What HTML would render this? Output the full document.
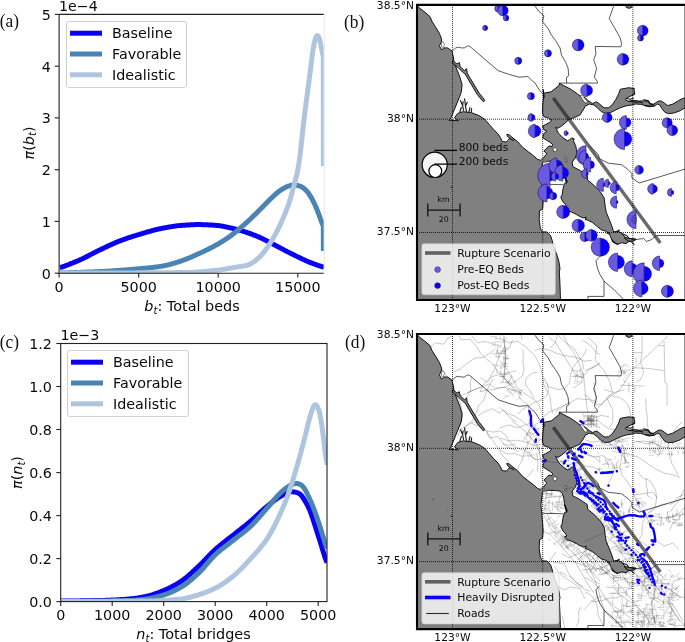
<!DOCTYPE html><html><head><meta charset="utf-8"><title>Figure</title><style>html,body{margin:0;padding:0;background:#fff}svg{display:block}text{font-family:"DejaVu Sans","Liberation Sans",sans-serif;fill:#0a0a0a}.ser{font-family:"Liberation Serif","DejaVu Serif",serif;fill:#111}</style></head><body>
<svg width="685" height="642" viewBox="0 0 685 642">
<rect width="685" height="642" fill="#fff"/>
<clipPath id="ca"><rect x="59.1" y="14.4" width="264.7" height="258.8"/></clipPath>
<path d="M60.0,267.5 L60.7,267.4 L61.3,267.2 L62.0,267.0 L62.6,266.8 L63.3,266.5 L64.0,266.3 L64.6,266.1 L65.3,265.8 L66.0,265.6 L66.6,265.3 L67.3,265.1 L67.9,264.8 L68.6,264.6 L69.3,264.3 L69.9,264.0 L70.6,263.8 L71.2,263.5 L71.9,263.3 L72.6,263.0 L73.2,262.7 L73.9,262.4 L74.6,262.2 L75.2,261.9 L75.9,261.6 L76.5,261.3 L77.2,261.1 L77.9,260.8 L78.5,260.5 L79.2,260.2 L79.8,259.9 L80.5,259.6 L81.2,259.3 L81.8,259.0 L82.5,258.7 L83.1,258.4 L83.8,258.0 L84.5,257.7 L85.1,257.4 L85.8,257.1 L86.5,256.7 L87.1,256.4 L87.8,256.1 L88.4,255.7 L89.1,255.4 L89.8,255.0 L90.4,254.7 L91.1,254.3 L91.7,254.0 L92.4,253.7 L93.1,253.3 L93.7,253.0 L94.4,252.6 L95.1,252.3 L95.7,252.0 L96.4,251.6 L97.0,251.3 L97.7,251.0 L98.4,250.6 L99.0,250.3 L99.7,250.0 L100.3,249.7 L101.0,249.4 L101.7,249.1 L102.3,248.7 L103.0,248.4 L103.7,248.1 L104.3,247.8 L105.0,247.5 L105.6,247.2 L106.3,246.9 L107.0,246.5 L107.6,246.2 L108.3,245.9 L108.9,245.6 L109.6,245.3 L110.3,245.0 L110.9,244.7 L111.6,244.4 L112.3,244.1 L112.9,243.8 L113.6,243.5 L114.2,243.2 L114.9,242.9 L115.6,242.6 L116.2,242.3 L116.9,242.1 L117.5,241.8 L118.2,241.5 L118.9,241.3 L119.5,241.0 L120.2,240.8 L120.8,240.5 L121.5,240.3 L122.2,240.0 L122.8,239.8 L123.5,239.5 L124.2,239.3 L124.8,239.1 L125.5,238.8 L126.1,238.6 L126.8,238.4 L127.5,238.1 L128.1,237.9 L128.8,237.7 L129.4,237.5 L130.1,237.3 L130.8,237.1 L131.4,236.8 L132.1,236.6 L132.8,236.4 L133.4,236.2 L134.1,236.0 L134.7,235.8 L135.4,235.6 L136.1,235.4 L136.7,235.2 L137.4,235.0 L138.0,234.8 L138.7,234.6 L139.4,234.4 L140.0,234.2 L140.7,234.0 L141.4,233.8 L142.0,233.6 L142.7,233.4 L143.3,233.2 L144.0,233.0 L144.7,232.8 L145.3,232.6 L146.0,232.4 L146.6,232.2 L147.3,232.0 L148.0,231.8 L148.6,231.7 L149.3,231.5 L150.0,231.3 L150.6,231.1 L151.3,230.9 L151.9,230.7 L152.6,230.5 L153.3,230.4 L153.9,230.2 L154.6,230.0 L155.2,229.8 L155.9,229.7 L156.6,229.5 L157.2,229.4 L157.9,229.2 L158.5,229.1 L159.2,228.9 L159.9,228.8 L160.5,228.6 L161.2,228.5 L161.9,228.4 L162.5,228.2 L163.2,228.1 L163.8,228.0 L164.5,227.9 L165.2,227.7 L165.8,227.6 L166.5,227.5 L167.1,227.4 L167.8,227.3 L168.5,227.1 L169.1,227.0 L169.8,226.9 L170.5,226.8 L171.1,226.7 L171.8,226.6 L172.4,226.5 L173.1,226.4 L173.8,226.3 L174.4,226.2 L175.1,226.1 L175.7,226.0 L176.4,225.9 L177.1,225.8 L177.7,225.8 L178.4,225.7 L179.1,225.6 L179.7,225.6 L180.4,225.5 L181.0,225.4 L181.7,225.4 L182.4,225.3 L183.0,225.3 L183.7,225.3 L184.3,225.2 L185.0,225.2 L185.7,225.1 L186.3,225.1 L187.0,225.0 L187.7,225.0 L188.3,224.9 L189.0,224.9 L189.6,224.9 L190.3,224.8 L191.0,224.8 L191.6,224.8 L192.3,224.7 L192.9,224.7 L193.6,224.7 L194.3,224.7 L194.9,224.6 L195.6,224.6 L196.2,224.6 L196.9,224.6 L197.6,224.6 L198.2,224.6 L198.9,224.6 L199.6,224.6 L200.2,224.6 L200.9,224.6 L201.5,224.6 L202.2,224.7 L202.9,224.7 L203.5,224.7 L204.2,224.7 L204.8,224.7 L205.5,224.8 L206.2,224.8 L206.8,224.8 L207.5,224.8 L208.2,224.9 L208.8,224.9 L209.5,224.9 L210.1,225.0 L210.8,225.0 L211.5,225.1 L212.1,225.1 L212.8,225.1 L213.4,225.2 L214.1,225.2 L214.8,225.3 L215.4,225.3 L216.1,225.4 L216.8,225.4 L217.4,225.5 L218.1,225.6 L218.7,225.6 L219.4,225.7 L220.1,225.8 L220.7,225.9 L221.4,226.0 L222.0,226.1 L222.7,226.2 L223.4,226.4 L224.0,226.5 L224.7,226.6 L225.4,226.8 L226.0,226.9 L226.7,227.1 L227.3,227.2 L228.0,227.4 L228.7,227.5 L229.3,227.6 L230.0,227.8 L230.6,227.9 L231.3,228.1 L232.0,228.2 L232.6,228.4 L233.3,228.6 L233.9,228.7 L234.6,228.9 L235.3,229.0 L235.9,229.2 L236.6,229.4 L237.3,229.6 L237.9,229.7 L238.6,229.9 L239.2,230.1 L239.9,230.3 L240.6,230.5 L241.2,230.7 L241.9,230.9 L242.5,231.1 L243.2,231.3 L243.9,231.5 L244.5,231.7 L245.2,231.9 L245.9,232.1 L246.5,232.3 L247.2,232.6 L247.8,232.8 L248.5,233.0 L249.2,233.2 L249.8,233.5 L250.5,233.7 L251.1,234.0 L251.8,234.2 L252.5,234.4 L253.1,234.7 L253.8,235.0 L254.5,235.2 L255.1,235.5 L255.8,235.7 L256.4,236.0 L257.1,236.3 L257.8,236.6 L258.4,236.8 L259.1,237.1 L259.7,237.4 L260.4,237.7 L261.1,238.0 L261.7,238.3 L262.4,238.6 L263.1,239.0 L263.7,239.3 L264.4,239.6 L265.0,239.9 L265.7,240.3 L266.4,240.6 L267.0,241.0 L267.7,241.3 L268.3,241.7 L269.0,242.0 L269.7,242.3 L270.3,242.7 L271.0,243.0 L271.6,243.4 L272.3,243.7 L273.0,244.1 L273.6,244.4 L274.3,244.8 L275.0,245.1 L275.6,245.5 L276.3,245.8 L276.9,246.2 L277.6,246.5 L278.3,246.9 L278.9,247.2 L279.6,247.6 L280.2,247.9 L280.9,248.3 L281.6,248.6 L282.2,249.0 L282.9,249.3 L283.6,249.7 L284.2,250.0 L284.9,250.4 L285.5,250.7 L286.2,251.0 L286.9,251.4 L287.5,251.7 L288.2,252.0 L288.8,252.4 L289.5,252.7 L290.2,253.1 L290.8,253.4 L291.5,253.7 L292.2,254.1 L292.8,254.4 L293.5,254.7 L294.1,255.0 L294.8,255.4 L295.5,255.7 L296.1,256.0 L296.8,256.3 L297.4,256.7 L298.1,257.0 L298.8,257.3 L299.4,257.6 L300.1,257.9 L300.8,258.3 L301.4,258.6 L302.1,258.9 L302.7,259.2 L303.4,259.5 L304.1,259.8 L304.7,260.1 L305.4,260.4 L306.0,260.7 L306.7,261.0 L307.4,261.3 L308.0,261.6 L308.7,261.9 L309.3,262.1 L310.0,262.4 L310.7,262.7 L311.3,262.9 L312.0,263.2 L312.7,263.4 L313.3,263.7 L314.0,263.9 L314.6,264.2 L315.3,264.4 L316.0,264.6 L316.6,264.9 L317.3,265.1 L317.9,265.3 L318.6,265.6 L319.3,265.8 L319.9,266.0 L320.6,266.2 L321.3,266.4 L321.9,266.7 L322.6,266.8 L323.2,267.0 L323.9,267.1" fill="none" stroke="#0a00f2" stroke-width="5" stroke-linejoin="round" clip-path="url(#ca)"/>
<path d="M60.0,272.8 L60.7,272.8 L61.3,272.8 L62.0,272.8 L62.6,272.8 L63.3,272.8 L64.0,272.8 L64.6,272.7 L65.3,272.7 L65.9,272.7 L66.6,272.7 L67.3,272.7 L67.9,272.7 L68.6,272.7 L69.2,272.7 L69.9,272.6 L70.6,272.6 L71.2,272.6 L71.9,272.6 L72.5,272.6 L73.2,272.6 L73.9,272.6 L74.5,272.5 L75.2,272.5 L75.8,272.5 L76.5,272.5 L77.2,272.5 L77.8,272.4 L78.5,272.4 L79.1,272.4 L79.8,272.4 L80.5,272.4 L81.1,272.3 L81.8,272.3 L82.4,272.3 L83.1,272.3 L83.8,272.2 L84.4,272.2 L85.1,272.2 L85.7,272.2 L86.4,272.1 L87.1,272.1 L87.7,272.1 L88.4,272.1 L89.0,272.0 L89.7,272.0 L90.4,272.0 L91.0,272.0 L91.7,271.9 L92.3,271.9 L93.0,271.9 L93.7,271.9 L94.3,271.8 L95.0,271.8 L95.6,271.8 L96.3,271.8 L97.0,271.7 L97.6,271.7 L98.3,271.7 L98.9,271.6 L99.6,271.6 L100.3,271.6 L100.9,271.6 L101.6,271.5 L102.2,271.5 L102.9,271.5 L103.6,271.4 L104.2,271.4 L104.9,271.3 L105.5,271.3 L106.2,271.3 L106.9,271.2 L107.5,271.2 L108.2,271.2 L108.8,271.1 L109.5,271.1 L110.2,271.0 L110.8,271.0 L111.5,270.9 L112.1,270.9 L112.8,270.8 L113.5,270.8 L114.1,270.7 L114.8,270.7 L115.4,270.7 L116.1,270.6 L116.8,270.6 L117.4,270.5 L118.1,270.5 L118.7,270.4 L119.4,270.4 L120.1,270.3 L120.7,270.3 L121.4,270.2 L122.0,270.2 L122.7,270.1 L123.4,270.1 L124.0,270.0 L124.7,270.0 L125.3,269.9 L126.0,269.9 L126.6,269.8 L127.3,269.8 L128.0,269.7 L128.6,269.7 L129.3,269.6 L129.9,269.6 L130.6,269.5 L131.3,269.4 L131.9,269.4 L132.6,269.3 L133.2,269.3 L133.9,269.2 L134.6,269.2 L135.2,269.1 L135.9,269.0 L136.5,269.0 L137.2,268.9 L137.9,268.9 L138.5,268.8 L139.2,268.7 L139.8,268.7 L140.5,268.6 L141.2,268.6 L141.8,268.5 L142.5,268.4 L143.1,268.4 L143.8,268.3 L144.5,268.2 L145.1,268.2 L145.8,268.1 L146.4,268.1 L147.1,268.0 L147.8,267.9 L148.4,267.9 L149.1,267.8 L149.7,267.7 L150.4,267.7 L151.1,267.6 L151.7,267.5 L152.4,267.5 L153.0,267.4 L153.7,267.3 L154.4,267.2 L155.0,267.1 L155.7,267.1 L156.3,267.0 L157.0,266.9 L157.7,266.8 L158.3,266.7 L159.0,266.6 L159.6,266.5 L160.3,266.4 L161.0,266.3 L161.6,266.2 L162.3,266.1 L162.9,266.0 L163.6,265.9 L164.3,265.7 L164.9,265.6 L165.6,265.4 L166.2,265.3 L166.9,265.1 L167.6,265.0 L168.2,264.8 L168.9,264.6 L169.5,264.5 L170.2,264.3 L170.9,264.1 L171.5,263.9 L172.2,263.7 L172.8,263.6 L173.5,263.4 L174.2,263.2 L174.8,263.0 L175.5,262.8 L176.1,262.6 L176.8,262.4 L177.5,262.2 L178.1,262.0 L178.8,261.8 L179.4,261.5 L180.1,261.3 L180.8,261.1 L181.4,260.9 L182.1,260.6 L182.7,260.4 L183.4,260.1 L184.1,259.9 L184.7,259.7 L185.4,259.4 L186.0,259.2 L186.7,258.9 L187.4,258.6 L188.0,258.4 L188.7,258.1 L189.3,257.8 L190.0,257.6 L190.7,257.3 L191.3,257.0 L192.0,256.7 L192.6,256.4 L193.3,256.1 L194.0,255.8 L194.6,255.5 L195.3,255.2 L195.9,254.9 L196.6,254.6 L197.3,254.3 L197.9,254.0 L198.6,253.7 L199.2,253.4 L199.9,253.1 L200.6,252.8 L201.2,252.5 L201.9,252.2 L202.5,251.9 L203.2,251.6 L203.9,251.3 L204.5,251.0 L205.2,250.7 L205.8,250.3 L206.5,250.0 L207.2,249.7 L207.8,249.4 L208.5,249.1 L209.1,248.7 L209.8,248.4 L210.5,248.1 L211.1,247.7 L211.8,247.4 L212.4,247.0 L213.1,246.7 L213.8,246.4 L214.4,246.0 L215.1,245.6 L215.7,245.3 L216.4,244.9 L217.1,244.5 L217.7,244.2 L218.4,243.8 L219.0,243.4 L219.7,243.0 L220.4,242.6 L221.0,242.2 L221.7,241.8 L222.3,241.4 L223.0,241.0 L223.7,240.5 L224.3,240.1 L225.0,239.7 L225.6,239.2 L226.3,238.8 L227.0,238.4 L227.6,237.9 L228.3,237.5 L228.9,237.0 L229.6,236.5 L230.3,236.1 L230.9,235.6 L231.6,235.1 L232.2,234.6 L232.9,234.1 L233.6,233.6 L234.2,233.1 L234.9,232.6 L235.5,232.0 L236.2,231.5 L236.9,231.0 L237.5,230.4 L238.2,229.9 L238.8,229.3 L239.5,228.8 L240.2,228.2 L240.8,227.6 L241.5,227.1 L242.1,226.5 L242.8,225.9 L243.5,225.3 L244.1,224.8 L244.8,224.2 L245.4,223.6 L246.1,223.0 L246.8,222.4 L247.4,221.8 L248.1,221.2 L248.7,220.6 L249.4,219.9 L250.1,219.3 L250.7,218.7 L251.4,218.1 L252.0,217.4 L252.7,216.8 L253.4,216.1 L254.0,215.5 L254.7,214.9 L255.3,214.2 L256.0,213.6 L256.7,212.9 L257.3,212.3 L258.0,211.6 L258.6,211.0 L259.3,210.3 L259.9,209.6 L260.6,209.0 L261.3,208.3 L261.9,207.6 L262.6,207.0 L263.2,206.3 L263.9,205.6 L264.6,204.9 L265.2,204.3 L265.9,203.6 L266.5,202.9 L267.2,202.2 L267.9,201.5 L268.5,200.9 L269.2,200.2 L269.8,199.6 L270.5,198.9 L271.2,198.3 L271.8,197.7 L272.5,197.1 L273.1,196.4 L273.8,195.8 L274.5,195.2 L275.1,194.6 L275.8,194.0 L276.4,193.4 L277.1,192.9 L277.8,192.3 L278.4,191.8 L279.1,191.3 L279.7,190.8 L280.4,190.4 L281.1,189.9 L281.7,189.5 L282.4,189.1 L283.0,188.7 L283.7,188.3 L284.4,187.9 L285.0,187.5 L285.7,187.2 L286.3,186.9 L287.0,186.6 L287.7,186.4 L288.3,186.2 L289.0,186.0 L289.6,185.8 L290.3,185.6 L291.0,185.4 L291.6,185.3 L292.3,185.1 L292.9,185.1 L293.6,185.0 L294.3,185.0 L294.9,185.0 L295.6,185.1 L296.2,185.1 L296.9,185.3 L297.6,185.4 L298.2,185.6 L298.9,185.8 L299.5,186.0 L300.2,186.2 L300.9,186.5 L301.5,186.8 L302.2,187.2 L302.8,187.6 L303.5,188.1 L304.2,188.6 L304.8,189.2 L305.5,189.8 L306.1,190.4 L306.8,191.1 L307.5,191.9 L308.1,192.7 L308.8,193.6 L309.4,194.6 L310.1,195.7 L310.8,196.7 L311.4,197.9 L312.1,199.0 L312.7,200.3 L313.4,201.6 L314.1,202.9 L314.7,204.3 L315.4,205.8 L316.0,207.4 L316.7,208.9 L317.4,210.6 L318.0,212.3 L318.7,214.0 L319.3,215.7 L320.0,217.6 L320.7,219.4 L321.3,221.3 L322.0,223.0 L322.6,224.6 L323.3,225.8 L323.4,251.0" fill="none" stroke="#4a84b5" stroke-width="5" stroke-linejoin="round" clip-path="url(#ca)"/>
<path d="M60.0,273.0 L60.7,273.0 L61.3,273.0 L62.0,273.0 L62.6,273.0 L63.3,273.0 L64.0,273.0 L64.6,273.0 L65.3,273.0 L65.9,273.0 L66.6,273.0 L67.3,273.0 L67.9,273.0 L68.6,273.0 L69.2,273.0 L69.9,273.0 L70.6,273.0 L71.2,273.0 L71.9,273.0 L72.5,273.0 L73.2,273.0 L73.9,273.0 L74.5,273.0 L75.2,273.0 L75.8,273.0 L76.5,273.0 L77.2,273.0 L77.8,273.0 L78.5,273.0 L79.1,273.0 L79.8,273.0 L80.5,273.0 L81.1,273.0 L81.8,273.0 L82.4,273.0 L83.1,273.0 L83.8,273.0 L84.4,273.0 L85.1,273.0 L85.7,273.0 L86.4,273.0 L87.1,273.0 L87.7,273.0 L88.4,273.0 L89.0,273.0 L89.7,273.0 L90.4,273.0 L91.0,273.0 L91.7,273.0 L92.3,273.0 L93.0,273.0 L93.7,273.0 L94.3,273.0 L95.0,273.0 L95.6,273.0 L96.3,273.0 L97.0,273.0 L97.6,273.0 L98.3,273.0 L98.9,273.0 L99.6,273.0 L100.3,273.0 L100.9,273.0 L101.6,273.0 L102.2,273.0 L102.9,272.9 L103.6,272.9 L104.2,272.9 L104.9,272.9 L105.5,272.9 L106.2,272.9 L106.9,272.9 L107.5,272.9 L108.2,272.9 L108.8,272.9 L109.5,272.9 L110.2,272.9 L110.8,272.9 L111.5,272.9 L112.1,272.9 L112.8,272.9 L113.5,272.9 L114.1,272.9 L114.8,272.9 L115.4,272.9 L116.1,272.9 L116.8,272.9 L117.4,272.9 L118.1,272.9 L118.7,272.9 L119.4,272.9 L120.1,272.9 L120.7,272.9 L121.4,272.9 L122.0,272.9 L122.7,272.9 L123.4,272.9 L124.0,272.9 L124.7,272.9 L125.3,272.9 L126.0,272.9 L126.6,272.9 L127.3,272.9 L128.0,272.9 L128.6,272.9 L129.3,272.9 L129.9,272.9 L130.6,272.9 L131.3,272.9 L131.9,272.9 L132.6,272.9 L133.2,272.9 L133.9,272.9 L134.6,272.9 L135.2,272.9 L135.9,272.9 L136.5,272.9 L137.2,272.8 L137.9,272.8 L138.5,272.8 L139.2,272.8 L139.8,272.8 L140.5,272.8 L141.2,272.8 L141.8,272.8 L142.5,272.8 L143.1,272.8 L143.8,272.8 L144.5,272.8 L145.1,272.8 L145.8,272.8 L146.4,272.8 L147.1,272.8 L147.8,272.8 L148.4,272.8 L149.1,272.8 L149.7,272.8 L150.4,272.8 L151.1,272.8 L151.7,272.8 L152.4,272.8 L153.0,272.8 L153.7,272.8 L154.4,272.8 L155.0,272.8 L155.7,272.8 L156.3,272.8 L157.0,272.8 L157.7,272.8 L158.3,272.8 L159.0,272.8 L159.6,272.8 L160.3,272.7 L161.0,272.7 L161.6,272.7 L162.3,272.7 L162.9,272.7 L163.6,272.7 L164.3,272.7 L164.9,272.7 L165.6,272.7 L166.2,272.7 L166.9,272.7 L167.6,272.7 L168.2,272.7 L168.9,272.7 L169.5,272.7 L170.2,272.7 L170.9,272.7 L171.5,272.7 L172.2,272.7 L172.8,272.6 L173.5,272.6 L174.2,272.6 L174.8,272.6 L175.5,272.6 L176.1,272.6 L176.8,272.6 L177.5,272.6 L178.1,272.6 L178.8,272.6 L179.4,272.6 L180.1,272.6 L180.8,272.5 L181.4,272.5 L182.1,272.5 L182.7,272.5 L183.4,272.5 L184.1,272.5 L184.7,272.5 L185.4,272.5 L186.0,272.5 L186.7,272.5 L187.4,272.4 L188.0,272.4 L188.7,272.4 L189.3,272.4 L190.0,272.4 L190.7,272.4 L191.3,272.4 L192.0,272.3 L192.6,272.3 L193.3,272.3 L194.0,272.3 L194.6,272.2 L195.3,272.2 L195.9,272.2 L196.6,272.1 L197.3,272.1 L197.9,272.0 L198.6,272.0 L199.2,272.0 L199.9,271.9 L200.6,271.9 L201.2,271.8 L201.9,271.8 L202.5,271.7 L203.2,271.6 L203.9,271.6 L204.5,271.5 L205.2,271.5 L205.8,271.4 L206.5,271.3 L207.2,271.3 L207.8,271.2 L208.5,271.1 L209.1,271.1 L209.8,271.0 L210.5,270.9 L211.1,270.8 L211.8,270.8 L212.4,270.7 L213.1,270.6 L213.8,270.6 L214.4,270.5 L215.1,270.4 L215.7,270.3 L216.4,270.3 L217.1,270.2 L217.7,270.1 L218.4,270.0 L219.0,269.9 L219.7,269.9 L220.4,269.8 L221.0,269.7 L221.7,269.6 L222.3,269.5 L223.0,269.4 L223.7,269.3 L224.3,269.2 L225.0,269.1 L225.6,269.0 L226.3,268.8 L227.0,268.7 L227.6,268.6 L228.3,268.5 L228.9,268.4 L229.6,268.3 L230.3,268.1 L230.9,268.0 L231.6,267.9 L232.2,267.8 L232.9,267.7 L233.6,267.6 L234.2,267.4 L234.9,267.3 L235.5,267.2 L236.2,267.1 L236.9,267.0 L237.5,266.9 L238.2,266.8 L238.8,266.7 L239.5,266.6 L240.2,266.5 L240.8,266.4 L241.5,266.3 L242.1,266.2 L242.8,266.1 L243.5,266.0 L244.1,265.9 L244.8,265.7 L245.4,265.6 L246.1,265.5 L246.8,265.3 L247.4,265.1 L248.1,264.9 L248.7,264.6 L249.4,264.3 L250.1,264.0 L250.7,263.7 L251.4,263.4 L252.0,263.0 L252.7,262.6 L253.4,262.2 L254.0,261.7 L254.7,261.3 L255.3,260.8 L256.0,260.3 L256.7,259.7 L257.3,259.1 L258.0,258.5 L258.6,257.9 L259.3,257.3 L259.9,256.6 L260.6,255.9 L261.3,255.2 L261.9,254.4 L262.6,253.7 L263.2,252.9 L263.9,252.1 L264.6,251.2 L265.2,250.3 L265.9,249.5 L266.5,248.6 L267.2,247.6 L267.9,246.7 L268.5,245.7 L269.2,244.7 L269.8,243.6 L270.5,242.6 L271.2,241.5 L271.8,240.5 L272.5,239.3 L273.1,238.2 L273.8,237.1 L274.5,235.9 L275.1,234.7 L275.8,233.5 L276.4,232.3 L277.1,231.0 L277.8,229.7 L278.4,228.4 L279.1,227.1 L279.7,225.7 L280.4,224.3 L281.1,222.9 L281.7,221.4 L282.4,219.9 L283.0,218.4 L283.7,216.8 L284.4,215.3 L285.0,213.7 L285.7,212.0 L286.3,210.4 L287.0,208.6 L287.7,206.9 L288.3,205.0 L289.0,203.1 L289.6,201.1 L290.3,199.0 L291.0,196.7 L291.6,194.4 L292.3,191.9 L292.9,189.4 L293.6,186.9 L294.3,184.4 L294.9,181.9 L295.6,179.4 L296.2,176.8 L296.9,174.0 L297.6,170.9 L298.2,167.4 L298.9,163.4 L299.5,158.8 L300.2,153.6 L300.9,148.0 L301.5,142.1 L302.2,136.1 L302.8,130.1 L303.5,124.2 L304.2,118.5 L304.8,113.0 L305.5,107.8 L306.1,102.7 L306.8,97.8 L307.5,92.8 L308.1,87.9 L308.8,82.9 L309.4,77.8 L310.1,72.5 L310.8,67.2 L311.4,61.8 L312.1,56.7 L312.7,51.9 L313.4,47.7 L314.1,44.1 L314.7,41.2 L315.4,38.8 L316.0,37.1 L316.7,36.0 L317.4,35.6 L318.0,35.9 L318.7,37.0 L319.3,38.7 L320.0,41.0 L320.7,43.8 L321.3,47.0 L322.0,50.4 L322.6,53.6 L323.3,56.3 L323.4,166.0" fill="none" stroke="#afc5df" stroke-width="5" stroke-linejoin="round" clip-path="url(#ca)"/>
<path d="M59.1,14.4 H323.8 M59.1,13.9 V273.2 H323.8" stroke="#222" stroke-width="1.1" fill="none"/>
<path d="M324.3,14.4 V273.2" stroke="#e8e8e8" stroke-width="1" fill="none"/>
<path d="M59.1,273.2 h-4.4" stroke="#222" stroke-width="1.1"/>
<text x="50.8" y="278.6" font-size="14.3" text-anchor="end">0</text>
<path d="M59.1,221.4 h-4.4" stroke="#222" stroke-width="1.1"/>
<text x="50.8" y="226.8" font-size="14.3" text-anchor="end">1</text>
<path d="M59.1,169.7 h-4.4" stroke="#222" stroke-width="1.1"/>
<text x="50.8" y="175.1" font-size="14.3" text-anchor="end">2</text>
<path d="M59.1,117.9 h-4.4" stroke="#222" stroke-width="1.1"/>
<text x="50.8" y="123.3" font-size="14.3" text-anchor="end">3</text>
<path d="M59.1,66.2 h-4.4" stroke="#222" stroke-width="1.1"/>
<text x="50.8" y="71.6" font-size="14.3" text-anchor="end">4</text>
<path d="M59.1,14.4 h-4.4" stroke="#222" stroke-width="1.1"/>
<text x="50.8" y="19.8" font-size="14.3" text-anchor="end">5</text>
<path d="M59.1,273.2 v4.3" stroke="#222" stroke-width="1.1"/>
<text x="59.1" y="291.7" font-size="14.3" text-anchor="middle">0</text>
<path d="M138.7,273.2 v4.3" stroke="#222" stroke-width="1.1"/>
<text x="138.7" y="291.7" font-size="14.3" text-anchor="middle">5000</text>
<path d="M218.2,273.2 v4.3" stroke="#222" stroke-width="1.1"/>
<text x="218.2" y="291.7" font-size="14.3" text-anchor="middle">10000</text>
<path d="M297.8,273.2 v4.3" stroke="#222" stroke-width="1.1"/>
<text x="297.8" y="291.7" font-size="14.3" text-anchor="middle">15000</text>
<text x="59" y="10.7" font-size="14.2">1e−4</text>
<text x="192" y="311" font-size="14.4" text-anchor="middle"><tspan font-style="italic">b</tspan><tspan font-style="italic" font-size="10.1" dy="2.8">t</tspan><tspan dy="-2.8">: Total beds</tspan></text>
<text transform="translate(33.6,143) rotate(-90)" font-size="14.4" text-anchor="middle"><tspan font-style="italic">π</tspan>(<tspan font-style="italic">b</tspan><tspan font-style="italic" font-size="10.1" dy="2.8">t</tspan><tspan dy="-2.8">)</tspan></text>
<text class="ser" transform="translate(-0.2,27) scale(1,1.12)" font-size="17.4">(a)</text>
<rect x="66.5" y="21.5" width="120.0" height="66.0" rx="2.5" fill="#fff" fill-opacity="0.8" stroke="#d0d0d0" stroke-width="1"/>
<path d="M70,33.2 h32" stroke="#0a00f2" stroke-width="5"/>
<text x="112" y="38.0" font-size="14.3">Baseline</text>
<path d="M70,54.0 h32" stroke="#4a84b5" stroke-width="5"/>
<text x="112" y="58.8" font-size="14.3">Favorable</text>
<path d="M70,74.8 h32" stroke="#afc5df" stroke-width="5"/>
<text x="112" y="79.6" font-size="14.3">Idealistic</text>
<clipPath id="cc"><rect x="60.7" y="343.5" width="266.3" height="258.1"/></clipPath>
<path d="M60.7,601.0 L61.4,601.0 L62.0,601.0 L62.7,601.0 L63.4,601.0 L64.0,601.0 L64.7,601.0 L65.4,601.0 L66.0,601.0 L66.7,601.0 L67.4,601.0 L68.0,601.0 L68.7,601.0 L69.4,601.0 L70.1,601.0 L70.7,601.0 L71.4,601.0 L72.1,600.9 L72.7,600.9 L73.4,600.9 L74.1,600.9 L74.7,600.9 L75.4,600.9 L76.1,600.9 L76.7,600.9 L77.4,600.9 L78.1,600.9 L78.7,600.9 L79.4,600.9 L80.1,600.9 L80.7,600.8 L81.4,600.8 L82.1,600.8 L82.7,600.8 L83.4,600.8 L84.1,600.8 L84.7,600.8 L85.4,600.8 L86.1,600.8 L86.7,600.8 L87.4,600.7 L88.1,600.7 L88.8,600.7 L89.4,600.7 L90.1,600.7 L90.8,600.7 L91.4,600.7 L92.1,600.7 L92.8,600.6 L93.4,600.6 L94.1,600.6 L94.8,600.6 L95.4,600.6 L96.1,600.6 L96.8,600.6 L97.4,600.6 L98.1,600.5 L98.8,600.5 L99.4,600.5 L100.1,600.5 L100.8,600.5 L101.4,600.5 L102.1,600.4 L102.8,600.4 L103.4,600.4 L104.1,600.4 L104.8,600.4 L105.5,600.3 L106.1,600.3 L106.8,600.3 L107.5,600.3 L108.1,600.3 L108.8,600.2 L109.5,600.2 L110.1,600.2 L110.8,600.1 L111.5,600.1 L112.1,600.1 L112.8,600.0 L113.5,600.0 L114.1,600.0 L114.8,599.9 L115.5,599.9 L116.1,599.9 L116.8,599.8 L117.5,599.8 L118.1,599.8 L118.8,599.7 L119.5,599.7 L120.1,599.6 L120.8,599.6 L121.5,599.5 L122.1,599.5 L122.8,599.4 L123.5,599.4 L124.2,599.4 L124.8,599.3 L125.5,599.3 L126.2,599.2 L126.8,599.2 L127.5,599.1 L128.2,599.0 L128.8,599.0 L129.5,598.9 L130.2,598.9 L130.8,598.8 L131.5,598.8 L132.2,598.7 L132.8,598.6 L133.5,598.5 L134.2,598.5 L134.8,598.4 L135.5,598.3 L136.2,598.2 L136.8,598.1 L137.5,598.0 L138.2,597.9 L138.8,597.8 L139.5,597.7 L140.2,597.6 L140.9,597.4 L141.5,597.3 L142.2,597.2 L142.9,597.1 L143.5,596.9 L144.2,596.8 L144.9,596.7 L145.5,596.5 L146.2,596.4 L146.9,596.2 L147.5,596.1 L148.2,595.9 L148.9,595.8 L149.5,595.6 L150.2,595.4 L150.9,595.2 L151.5,595.0 L152.2,594.8 L152.9,594.6 L153.5,594.4 L154.2,594.2 L154.9,593.9 L155.5,593.7 L156.2,593.5 L156.9,593.2 L157.5,593.0 L158.2,592.7 L158.9,592.5 L159.6,592.2 L160.2,591.9 L160.9,591.7 L161.6,591.4 L162.2,591.1 L162.9,590.8 L163.6,590.6 L164.2,590.3 L164.9,590.0 L165.6,589.7 L166.2,589.4 L166.9,589.1 L167.6,588.8 L168.2,588.5 L168.9,588.2 L169.6,587.9 L170.2,587.5 L170.9,587.2 L171.6,586.8 L172.2,586.5 L172.9,586.1 L173.6,585.8 L174.2,585.4 L174.9,585.0 L175.6,584.7 L176.3,584.3 L176.9,583.9 L177.6,583.5 L178.3,583.1 L178.9,582.7 L179.6,582.3 L180.3,581.8 L180.9,581.4 L181.6,580.9 L182.3,580.5 L182.9,580.0 L183.6,579.5 L184.3,579.0 L184.9,578.5 L185.6,578.0 L186.3,577.5 L186.9,576.9 L187.6,576.3 L188.3,575.8 L188.9,575.2 L189.6,574.6 L190.3,574.0 L190.9,573.4 L191.6,572.8 L192.3,572.2 L192.9,571.6 L193.6,571.0 L194.3,570.3 L195.0,569.7 L195.6,569.1 L196.3,568.5 L197.0,567.8 L197.6,567.2 L198.3,566.6 L199.0,566.0 L199.6,565.3 L200.3,564.7 L201.0,564.0 L201.6,563.3 L202.3,562.7 L203.0,562.0 L203.6,561.3 L204.3,560.6 L205.0,559.9 L205.6,559.2 L206.3,558.5 L207.0,557.8 L207.6,557.1 L208.3,556.4 L209.0,555.7 L209.6,555.0 L210.3,554.3 L211.0,553.7 L211.6,553.0 L212.3,552.3 L213.0,551.7 L213.7,551.0 L214.3,550.4 L215.0,549.8 L215.7,549.2 L216.3,548.6 L217.0,548.0 L217.7,547.4 L218.3,546.9 L219.0,546.3 L219.7,545.7 L220.3,545.2 L221.0,544.7 L221.7,544.1 L222.3,543.6 L223.0,543.1 L223.7,542.5 L224.3,542.0 L225.0,541.5 L225.7,541.0 L226.3,540.5 L227.0,539.9 L227.7,539.4 L228.3,538.9 L229.0,538.4 L229.7,537.9 L230.4,537.3 L231.0,536.8 L231.7,536.3 L232.4,535.8 L233.0,535.2 L233.7,534.7 L234.4,534.2 L235.0,533.7 L235.7,533.1 L236.4,532.6 L237.0,532.1 L237.7,531.6 L238.4,531.0 L239.0,530.5 L239.7,530.0 L240.4,529.5 L241.0,529.0 L241.7,528.4 L242.4,527.9 L243.0,527.4 L243.7,526.8 L244.4,526.3 L245.0,525.8 L245.7,525.2 L246.4,524.7 L247.0,524.2 L247.7,523.6 L248.4,523.1 L249.1,522.5 L249.7,521.9 L250.4,521.4 L251.1,520.8 L251.7,520.2 L252.4,519.6 L253.1,519.0 L253.7,518.4 L254.4,517.8 L255.1,517.2 L255.7,516.6 L256.4,515.9 L257.1,515.3 L257.7,514.7 L258.4,514.1 L259.1,513.5 L259.7,512.8 L260.4,512.2 L261.1,511.6 L261.7,511.0 L262.4,510.4 L263.1,509.8 L263.7,509.2 L264.4,508.6 L265.1,508.0 L265.8,507.5 L266.4,506.9 L267.1,506.3 L267.8,505.8 L268.4,505.2 L269.1,504.7 L269.8,504.1 L270.4,503.6 L271.1,503.0 L271.8,502.5 L272.4,502.0 L273.1,501.4 L273.8,500.9 L274.4,500.4 L275.1,499.9 L275.8,499.4 L276.4,498.9 L277.1,498.5 L277.8,498.0 L278.4,497.6 L279.1,497.2 L279.8,496.8 L280.4,496.4 L281.1,496.0 L281.8,495.6 L282.4,495.2 L283.1,494.8 L283.8,494.4 L284.5,494.0 L285.1,493.7 L285.8,493.3 L286.5,493.0 L287.1,492.7 L287.8,492.4 L288.5,492.2 L289.1,492.0 L289.8,491.9 L290.5,491.8 L291.1,491.8 L291.8,491.8 L292.5,491.8 L293.1,491.9 L293.8,491.9 L294.5,492.0 L295.1,492.1 L295.8,492.3 L296.5,492.4 L297.1,492.6 L297.8,492.8 L298.5,493.2 L299.1,493.5 L299.8,494.0 L300.5,494.6 L301.2,495.3 L301.8,496.1 L302.5,497.0 L303.2,498.0 L303.8,499.0 L304.5,500.0 L305.2,501.2 L305.8,502.3 L306.5,503.5 L307.2,504.7 L307.8,506.0 L308.5,507.4 L309.2,508.8 L309.8,510.4 L310.5,512.1 L311.2,513.9 L311.8,515.8 L312.5,517.7 L313.2,519.8 L313.8,521.8 L314.5,523.9 L315.2,526.0 L315.8,528.1 L316.5,530.1 L317.2,532.2 L317.8,534.3 L318.5,536.4 L319.2,538.6 L319.9,540.7 L320.5,542.9 L321.2,545.1 L321.9,547.3 L322.5,549.4 L323.2,551.6 L323.9,553.7 L324.5,555.8 L325.2,557.8 L325.9,559.7 L326.5,561.2 L327.2,562.4" fill="none" stroke="#0a00f2" stroke-width="5" stroke-linejoin="round" clip-path="url(#cc)"/>
<path d="M60.7,601.3 L61.4,601.3 L62.0,601.3 L62.7,601.3 L63.4,601.3 L64.0,601.3 L64.7,601.3 L65.4,601.3 L66.0,601.3 L66.7,601.3 L67.4,601.3 L68.0,601.3 L68.7,601.3 L69.4,601.3 L70.1,601.3 L70.7,601.3 L71.4,601.3 L72.1,601.3 L72.7,601.3 L73.4,601.3 L74.1,601.3 L74.7,601.3 L75.4,601.3 L76.1,601.3 L76.7,601.3 L77.4,601.3 L78.1,601.3 L78.7,601.3 L79.4,601.2 L80.1,601.2 L80.7,601.2 L81.4,601.2 L82.1,601.2 L82.7,601.2 L83.4,601.2 L84.1,601.2 L84.7,601.2 L85.4,601.2 L86.1,601.2 L86.7,601.2 L87.4,601.2 L88.1,601.2 L88.8,601.2 L89.4,601.2 L90.1,601.2 L90.8,601.2 L91.4,601.2 L92.1,601.1 L92.8,601.1 L93.4,601.1 L94.1,601.1 L94.8,601.1 L95.4,601.1 L96.1,601.1 L96.8,601.1 L97.4,601.1 L98.1,601.1 L98.8,601.1 L99.4,601.1 L100.1,601.1 L100.8,601.0 L101.4,601.0 L102.1,601.0 L102.8,601.0 L103.4,601.0 L104.1,601.0 L104.8,601.0 L105.5,601.0 L106.1,601.0 L106.8,601.0 L107.5,601.0 L108.1,600.9 L108.8,600.9 L109.5,600.9 L110.1,600.9 L110.8,600.9 L111.5,600.9 L112.1,600.9 L112.8,600.9 L113.5,600.9 L114.1,600.8 L114.8,600.8 L115.5,600.8 L116.1,600.8 L116.8,600.8 L117.5,600.8 L118.1,600.8 L118.8,600.7 L119.5,600.7 L120.1,600.7 L120.8,600.7 L121.5,600.7 L122.1,600.7 L122.8,600.7 L123.5,600.7 L124.2,600.6 L124.8,600.6 L125.5,600.6 L126.2,600.6 L126.8,600.6 L127.5,600.6 L128.2,600.5 L128.8,600.5 L129.5,600.5 L130.2,600.5 L130.8,600.5 L131.5,600.4 L132.2,600.4 L132.8,600.4 L133.5,600.3 L134.2,600.3 L134.8,600.2 L135.5,600.2 L136.2,600.1 L136.8,600.1 L137.5,600.0 L138.2,599.9 L138.8,599.9 L139.5,599.8 L140.2,599.7 L140.9,599.6 L141.5,599.5 L142.2,599.4 L142.9,599.4 L143.5,599.3 L144.2,599.2 L144.9,599.1 L145.5,599.0 L146.2,598.9 L146.9,598.8 L147.5,598.7 L148.2,598.6 L148.9,598.5 L149.5,598.4 L150.2,598.3 L150.9,598.2 L151.5,598.0 L152.2,597.9 L152.9,597.8 L153.5,597.6 L154.2,597.5 L154.9,597.3 L155.5,597.2 L156.2,597.0 L156.9,596.8 L157.5,596.7 L158.2,596.5 L158.9,596.3 L159.6,596.1 L160.2,596.0 L160.9,595.8 L161.6,595.6 L162.2,595.4 L162.9,595.2 L163.6,595.0 L164.2,594.8 L164.9,594.6 L165.6,594.3 L166.2,594.1 L166.9,593.9 L167.6,593.6 L168.2,593.4 L168.9,593.1 L169.6,592.8 L170.2,592.6 L170.9,592.3 L171.6,592.0 L172.2,591.7 L172.9,591.4 L173.6,591.1 L174.2,590.7 L174.9,590.4 L175.6,590.1 L176.3,589.7 L176.9,589.4 L177.6,589.0 L178.3,588.7 L178.9,588.3 L179.6,587.9 L180.3,587.5 L180.9,587.2 L181.6,586.8 L182.3,586.4 L182.9,585.9 L183.6,585.5 L184.3,585.1 L184.9,584.6 L185.6,584.1 L186.3,583.6 L186.9,583.1 L187.6,582.6 L188.3,582.1 L188.9,581.6 L189.6,581.0 L190.3,580.5 L190.9,579.9 L191.6,579.4 L192.3,578.8 L192.9,578.2 L193.6,577.6 L194.3,577.0 L195.0,576.4 L195.6,575.8 L196.3,575.2 L197.0,574.6 L197.6,574.0 L198.3,573.4 L199.0,572.7 L199.6,572.1 L200.3,571.4 L201.0,570.7 L201.6,570.0 L202.3,569.3 L203.0,568.5 L203.6,567.8 L204.3,567.0 L205.0,566.2 L205.6,565.5 L206.3,564.7 L207.0,563.9 L207.6,563.1 L208.3,562.3 L209.0,561.5 L209.6,560.8 L210.3,560.0 L211.0,559.2 L211.6,558.5 L212.3,557.8 L213.0,557.0 L213.7,556.4 L214.3,555.7 L215.0,555.0 L215.7,554.4 L216.3,553.8 L217.0,553.2 L217.7,552.6 L218.3,552.0 L219.0,551.4 L219.7,550.9 L220.3,550.3 L221.0,549.8 L221.7,549.2 L222.3,548.7 L223.0,548.2 L223.7,547.7 L224.3,547.1 L225.0,546.6 L225.7,546.1 L226.3,545.6 L227.0,545.1 L227.7,544.6 L228.3,544.1 L229.0,543.6 L229.7,543.1 L230.4,542.5 L231.0,542.0 L231.7,541.5 L232.4,541.0 L233.0,540.4 L233.7,539.9 L234.4,539.4 L235.0,538.9 L235.7,538.4 L236.4,537.9 L237.0,537.4 L237.7,536.8 L238.4,536.3 L239.0,535.8 L239.7,535.3 L240.4,534.8 L241.0,534.3 L241.7,533.8 L242.4,533.3 L243.0,532.8 L243.7,532.2 L244.4,531.7 L245.0,531.2 L245.7,530.6 L246.4,530.1 L247.0,529.5 L247.7,528.9 L248.4,528.3 L249.1,527.7 L249.7,527.1 L250.4,526.5 L251.1,525.9 L251.7,525.2 L252.4,524.6 L253.1,523.9 L253.7,523.2 L254.4,522.5 L255.1,521.8 L255.7,521.0 L256.4,520.3 L257.1,519.6 L257.7,518.8 L258.4,518.1 L259.1,517.3 L259.7,516.5 L260.4,515.8 L261.1,515.0 L261.7,514.2 L262.4,513.4 L263.1,512.7 L263.7,511.9 L264.4,511.1 L265.1,510.4 L265.8,509.6 L266.4,508.9 L267.1,508.1 L267.8,507.3 L268.4,506.6 L269.1,505.8 L269.8,505.0 L270.4,504.2 L271.1,503.4 L271.8,502.6 L272.4,501.8 L273.1,501.0 L273.8,500.2 L274.4,499.4 L275.1,498.6 L275.8,497.9 L276.4,497.1 L277.1,496.4 L277.8,495.6 L278.4,494.9 L279.1,494.3 L279.8,493.6 L280.4,493.0 L281.1,492.3 L281.8,491.7 L282.4,491.1 L283.1,490.5 L283.8,490.0 L284.5,489.4 L285.1,488.8 L285.8,488.3 L286.5,487.8 L287.1,487.3 L287.8,486.8 L288.5,486.4 L289.1,485.9 L289.8,485.6 L290.5,485.2 L291.1,484.9 L291.8,484.6 L292.5,484.3 L293.1,484.0 L293.8,483.8 L294.5,483.6 L295.1,483.4 L295.8,483.4 L296.5,483.4 L297.1,483.4 L297.8,483.6 L298.5,483.8 L299.1,484.0 L299.8,484.3 L300.5,484.6 L301.2,485.0 L301.8,485.5 L302.5,486.2 L303.2,486.9 L303.8,487.7 L304.5,488.7 L305.2,489.8 L305.8,491.0 L306.5,492.2 L307.2,493.6 L307.8,495.0 L308.5,496.4 L309.2,497.8 L309.8,499.3 L310.5,500.8 L311.2,502.3 L311.8,503.9 L312.5,505.4 L313.2,507.1 L313.8,508.8 L314.5,510.6 L315.2,512.4 L315.8,514.3 L316.5,516.2 L317.2,518.2 L317.8,520.2 L318.5,522.2 L319.2,524.2 L319.9,526.3 L320.5,528.4 L321.2,530.5 L321.9,532.7 L322.5,534.9 L323.2,537.1 L323.9,539.3 L324.5,541.4 L325.2,543.5 L325.9,545.5 L326.5,547.1 L327.2,548.4" fill="none" stroke="#4a84b5" stroke-width="5" stroke-linejoin="round" clip-path="url(#cc)"/>
<path d="M60.7,601.5 L61.4,601.5 L62.0,601.5 L62.7,601.5 L63.4,601.5 L64.0,601.5 L64.7,601.5 L65.4,601.5 L66.0,601.5 L66.7,601.5 L67.4,601.5 L68.0,601.5 L68.7,601.5 L69.4,601.5 L70.1,601.5 L70.7,601.5 L71.4,601.5 L72.1,601.5 L72.7,601.5 L73.4,601.5 L74.1,601.5 L74.7,601.5 L75.4,601.5 L76.1,601.5 L76.7,601.5 L77.4,601.5 L78.1,601.5 L78.7,601.5 L79.4,601.5 L80.1,601.5 L80.7,601.5 L81.4,601.5 L82.1,601.5 L82.7,601.5 L83.4,601.5 L84.1,601.5 L84.7,601.5 L85.4,601.5 L86.1,601.5 L86.7,601.5 L87.4,601.5 L88.1,601.5 L88.8,601.5 L89.4,601.5 L90.1,601.5 L90.8,601.4 L91.4,601.4 L92.1,601.4 L92.8,601.4 L93.4,601.4 L94.1,601.4 L94.8,601.4 L95.4,601.4 L96.1,601.4 L96.8,601.4 L97.4,601.4 L98.1,601.4 L98.8,601.4 L99.4,601.4 L100.1,601.4 L100.8,601.4 L101.4,601.4 L102.1,601.4 L102.8,601.4 L103.4,601.4 L104.1,601.4 L104.8,601.4 L105.5,601.4 L106.1,601.4 L106.8,601.4 L107.5,601.4 L108.1,601.4 L108.8,601.4 L109.5,601.4 L110.1,601.4 L110.8,601.4 L111.5,601.3 L112.1,601.3 L112.8,601.3 L113.5,601.3 L114.1,601.3 L114.8,601.3 L115.5,601.3 L116.1,601.3 L116.8,601.3 L117.5,601.3 L118.1,601.3 L118.8,601.3 L119.5,601.3 L120.1,601.3 L120.8,601.3 L121.5,601.3 L122.1,601.3 L122.8,601.3 L123.5,601.3 L124.2,601.3 L124.8,601.3 L125.5,601.2 L126.2,601.2 L126.8,601.2 L127.5,601.2 L128.2,601.2 L128.8,601.2 L129.5,601.2 L130.2,601.2 L130.8,601.2 L131.5,601.2 L132.2,601.2 L132.8,601.2 L133.5,601.2 L134.2,601.2 L134.8,601.2 L135.5,601.2 L136.2,601.2 L136.8,601.1 L137.5,601.1 L138.2,601.1 L138.8,601.1 L139.5,601.1 L140.2,601.1 L140.9,601.1 L141.5,601.1 L142.2,601.1 L142.9,601.1 L143.5,601.1 L144.2,601.1 L144.9,601.1 L145.5,601.1 L146.2,601.0 L146.9,601.0 L147.5,601.0 L148.2,601.0 L148.9,601.0 L149.5,601.0 L150.2,601.0 L150.9,601.0 L151.5,601.0 L152.2,601.0 L152.9,600.9 L153.5,600.9 L154.2,600.9 L154.9,600.9 L155.5,600.9 L156.2,600.8 L156.9,600.8 L157.5,600.8 L158.2,600.8 L158.9,600.7 L159.6,600.7 L160.2,600.7 L160.9,600.6 L161.6,600.6 L162.2,600.6 L162.9,600.5 L163.6,600.5 L164.2,600.4 L164.9,600.4 L165.6,600.3 L166.2,600.3 L166.9,600.2 L167.6,600.2 L168.2,600.1 L168.9,600.1 L169.6,600.0 L170.2,600.0 L170.9,599.9 L171.6,599.9 L172.2,599.8 L172.9,599.8 L173.6,599.7 L174.2,599.6 L174.9,599.6 L175.6,599.5 L176.3,599.4 L176.9,599.4 L177.6,599.3 L178.3,599.2 L178.9,599.2 L179.6,599.1 L180.3,599.0 L180.9,598.9 L181.6,598.9 L182.3,598.8 L182.9,598.7 L183.6,598.6 L184.3,598.5 L184.9,598.4 L185.6,598.2 L186.3,598.1 L186.9,598.0 L187.6,597.8 L188.3,597.7 L188.9,597.5 L189.6,597.3 L190.3,597.2 L190.9,597.0 L191.6,596.8 L192.3,596.6 L192.9,596.4 L193.6,596.2 L194.3,596.0 L195.0,595.9 L195.6,595.7 L196.3,595.5 L197.0,595.3 L197.6,595.1 L198.3,594.9 L199.0,594.7 L199.6,594.4 L200.3,594.2 L201.0,594.0 L201.6,593.8 L202.3,593.6 L203.0,593.3 L203.6,593.1 L204.3,592.9 L205.0,592.6 L205.6,592.4 L206.3,592.1 L207.0,591.8 L207.6,591.6 L208.3,591.3 L209.0,591.0 L209.6,590.7 L210.3,590.5 L211.0,590.2 L211.6,589.9 L212.3,589.6 L213.0,589.3 L213.7,588.9 L214.3,588.6 L215.0,588.3 L215.7,588.0 L216.3,587.6 L217.0,587.3 L217.7,586.9 L218.3,586.5 L219.0,586.2 L219.7,585.8 L220.3,585.4 L221.0,585.0 L221.7,584.5 L222.3,584.1 L223.0,583.7 L223.7,583.2 L224.3,582.8 L225.0,582.3 L225.7,581.9 L226.3,581.4 L227.0,580.9 L227.7,580.4 L228.3,579.9 L229.0,579.4 L229.7,578.9 L230.4,578.4 L231.0,577.9 L231.7,577.4 L232.4,576.9 L233.0,576.3 L233.7,575.8 L234.4,575.2 L235.0,574.6 L235.7,574.0 L236.4,573.4 L237.0,572.8 L237.7,572.2 L238.4,571.6 L239.0,570.9 L239.7,570.3 L240.4,569.6 L241.0,568.9 L241.7,568.2 L242.4,567.6 L243.0,566.9 L243.7,566.2 L244.4,565.5 L245.0,564.7 L245.7,564.0 L246.4,563.3 L247.0,562.6 L247.7,561.9 L248.4,561.1 L249.1,560.4 L249.7,559.7 L250.4,559.0 L251.1,558.2 L251.7,557.5 L252.4,556.8 L253.1,556.1 L253.7,555.3 L254.4,554.6 L255.1,553.9 L255.7,553.1 L256.4,552.4 L257.1,551.6 L257.7,550.9 L258.4,550.1 L259.1,549.3 L259.7,548.5 L260.4,547.7 L261.1,546.9 L261.7,546.1 L262.4,545.2 L263.1,544.4 L263.7,543.5 L264.4,542.6 L265.1,541.7 L265.8,540.8 L266.4,539.8 L267.1,538.8 L267.8,537.8 L268.4,536.7 L269.1,535.6 L269.8,534.5 L270.4,533.4 L271.1,532.2 L271.8,531.0 L272.4,529.7 L273.1,528.5 L273.8,527.2 L274.4,525.9 L275.1,524.5 L275.8,523.2 L276.4,521.8 L277.1,520.5 L277.8,519.1 L278.4,517.7 L279.1,516.3 L279.8,514.8 L280.4,513.3 L281.1,511.9 L281.8,510.3 L282.4,508.8 L283.1,507.2 L283.8,505.6 L284.5,504.0 L285.1,502.3 L285.8,500.6 L286.5,498.9 L287.1,497.1 L287.8,495.3 L288.5,493.5 L289.1,491.6 L289.8,489.6 L290.5,487.6 L291.1,485.6 L291.8,483.5 L292.5,481.4 L293.1,479.2 L293.8,477.1 L294.5,474.9 L295.1,472.6 L295.8,470.4 L296.5,468.1 L297.1,465.8 L297.8,463.5 L298.5,461.2 L299.1,458.8 L299.8,456.4 L300.5,453.9 L301.2,451.4 L301.8,448.9 L302.5,446.4 L303.2,443.8 L303.8,441.2 L304.5,438.6 L305.2,435.9 L305.8,433.2 L306.5,430.4 L307.2,427.6 L307.8,424.9 L308.5,422.3 L309.2,419.8 L309.8,417.5 L310.5,415.2 L311.2,413.0 L311.8,410.9 L312.5,409.0 L313.2,407.3 L313.8,406.0 L314.5,405.1 L315.2,404.7 L315.8,404.8 L316.5,405.4 L317.2,406.4 L317.8,407.8 L318.5,409.5 L319.2,411.7 L319.9,414.3 L320.5,417.4 L321.2,421.2 L321.9,425.6 L322.5,430.5 L323.2,435.8 L323.9,441.4 L324.5,447.0 L325.2,452.4 L325.9,457.3 L326.5,461.5 L327.2,464.6" fill="none" stroke="#afc5df" stroke-width="5" stroke-linejoin="round" clip-path="url(#cc)"/>
<rect x="60.7" y="343.5" width="266.3" height="258.1" stroke="#222" stroke-width="1.1" fill="none"/>
<path d="M60.7,601.6 h-4.4" stroke="#222" stroke-width="1.1"/>
<text x="51.9" y="606.8" font-size="14.3" text-anchor="end">0.0</text>
<path d="M60.7,558.6 h-4.4" stroke="#222" stroke-width="1.1"/>
<text x="51.9" y="563.8" font-size="14.3" text-anchor="end">0.2</text>
<path d="M60.7,515.6 h-4.4" stroke="#222" stroke-width="1.1"/>
<text x="51.9" y="520.8" font-size="14.3" text-anchor="end">0.4</text>
<path d="M60.7,472.6 h-4.4" stroke="#222" stroke-width="1.1"/>
<text x="51.9" y="477.8" font-size="14.3" text-anchor="end">0.6</text>
<path d="M60.7,429.5 h-4.4" stroke="#222" stroke-width="1.1"/>
<text x="51.9" y="434.7" font-size="14.3" text-anchor="end">0.8</text>
<path d="M60.7,386.5 h-4.4" stroke="#222" stroke-width="1.1"/>
<text x="51.9" y="391.7" font-size="14.3" text-anchor="end">1.0</text>
<path d="M60.7,343.5 h-4.4" stroke="#222" stroke-width="1.1"/>
<text x="51.9" y="348.7" font-size="14.3" text-anchor="end">1.2</text>
<path d="M60.7,601.6 v4.3" stroke="#222" stroke-width="1.1"/>
<text x="60.7" y="620.1" font-size="14.3" text-anchor="middle">0</text>
<path d="M112.2,601.6 v4.3" stroke="#222" stroke-width="1.1"/>
<text x="112.2" y="620.1" font-size="14.3" text-anchor="middle">1000</text>
<path d="M163.7,601.6 v4.3" stroke="#222" stroke-width="1.1"/>
<text x="163.7" y="620.1" font-size="14.3" text-anchor="middle">2000</text>
<path d="M215.2,601.6 v4.3" stroke="#222" stroke-width="1.1"/>
<text x="215.2" y="620.1" font-size="14.3" text-anchor="middle">3000</text>
<path d="M266.7,601.6 v4.3" stroke="#222" stroke-width="1.1"/>
<text x="266.7" y="620.1" font-size="14.3" text-anchor="middle">4000</text>
<path d="M318.2,601.6 v4.3" stroke="#222" stroke-width="1.1"/>
<text x="318.2" y="620.1" font-size="14.3" text-anchor="middle">5000</text>
<text x="60.4" y="339.6" font-size="14.3">1e−3</text>
<text x="193.5" y="638.8" font-size="14.4" text-anchor="middle"><tspan font-style="italic">n</tspan><tspan font-style="italic" font-size="10.1" dy="2.8">t</tspan><tspan dy="-2.8">: Total bridges</tspan></text>
<text transform="translate(22,472.5) rotate(-90)" font-size="14.4" text-anchor="middle"><tspan font-style="italic">π</tspan>(<tspan font-style="italic">n</tspan><tspan font-style="italic" font-size="10.1" dy="2.8">t</tspan><tspan dy="-2.8">)</tspan></text>
<text class="ser" transform="translate(-0.2,347.5) scale(1,1.12)" font-size="17.4">(c)</text>
<rect x="67.5" y="350.5" width="121.0" height="66.0" rx="2.5" fill="#fff" fill-opacity="0.8" stroke="#d0d0d0" stroke-width="1"/>
<path d="M71,362.2 h32" stroke="#0a00f2" stroke-width="5"/>
<text x="113" y="367.0" font-size="14.3">Baseline</text>
<path d="M71,383.0 h32" stroke="#4a84b5" stroke-width="5"/>
<text x="113" y="387.8" font-size="14.3">Favorable</text>
<path d="M71,403.8 h32" stroke="#afc5df" stroke-width="5"/>
<text x="113" y="408.6" font-size="14.3">Idealistic</text>
<g transform="translate(0,0.0)">
<clipPath id="cb"><rect x="417" y="4.9" width="270" height="295.1"/></clipPath>
<rect x="417" y="4.9" width="270" height="295.1" fill="#fff"/>
<g clip-path="url(#cb)">
<path d="M417.0,4.9 L418.2,6.9 L424.8,12.1 L429.9,16.4 L432.1,21.6 L435.8,27.4 L439.4,33.3 L441.6,39.1 L441.2,42.8 L439.4,45.7 L441.6,50.1 L443.8,47.9 L447.5,47.9 L451.9,50.9 L453.3,56.7 L454.1,62.6 L457.0,69.9 L459.9,77.2 L462.1,84.5 L461.4,91.8 L459.2,97.7 L450.4,119.3 L448.9,120.3 L458.5,120.7 L454.4,117.8 L457.7,113.4 L462.9,111.7 L471.6,112.7 L479.0,115.6 L484.8,119.3 L489.2,124.4 L493.6,129.5 L498.0,133.9 L500.9,138.3 L502.1,141.5 L503.0,141.6 L506.2,142.0 L508.4,139.9 L510.0,137.6 L512.4,137.7 L517.4,141.4 L522.3,147.0 L528.6,152.0 L533.5,155.7 L537.5,159.3 L540.3,160.2 L543.2,158.8 L542.5,162.7 L541.0,175.5 L541.7,184.3 L542.5,193.1 L543.2,201.9 L542.5,209.2 L539.5,210.6 L539.2,219.4 L540.3,228.2 L542.5,231.9 L546.9,231.9 L550.5,235.5 L552.0,239.9 L553.4,245.8 L555.6,251.6 L557.8,257.5 L559.3,263.3 L560.0,269.2 L559.3,271.0 L560.0,285.0 L560.5,301.0 L417.0,301.0Z" fill="#808080" stroke="#000" stroke-width="0.9" stroke-linejoin="round"/>
<path d="M543.2,158.3 L544.7,156.1 L546.9,153.9 L543.9,151.0 L546.9,148.1 L549.0,145.9 L552.0,146.6 L552.7,144.4 L549.8,142.2 L543.9,138.5 L542.5,137.8 L543.9,133.4 L546.9,131.2 L543.9,129.8 L542.5,126.1 L545.4,124.6 L549.8,122.4 L551.2,120.2 L548.3,118.1 L543.9,116.6 L542.5,112.9 L542.8,104.1 L543.9,95.4 L543.2,89.5 L543.9,97.7 L543.2,93.3 L551.2,91.8 L559.3,85.3 L559.3,83.1 L563.0,85.3 L570.3,88.9 L577.6,94.0 L582.0,97.7 L585.0,97.6 L587.9,100.5 L592.3,103.4 L596.7,101.9 L599.6,104.1 L604.0,107.8 L608.4,107.8 L612.1,104.9 L615.7,99.7 L618.7,93.9 L620.1,89.5 L621.9,88.9 L628.9,87.7 L634.5,88.6 L634.0,89.5 L634.8,93.2 L631.9,95.4 L627.5,97.6 L625.3,99.7 L628.9,101.2 L633.3,100.3 L639.2,101.1 L643.6,100.8 L648.7,101.4 L649.4,103.8 L653.1,104.4 L655.3,103.0 L658.2,101.2 L661.1,100.9 L664.8,103.4 L667.7,105.6 L672.8,104.1 L678.7,100.5 L682.4,98.6 L685.0,98.0 L690.4,98.0 L690.4,107.8 L685.0,107.8 L680.2,110.7 L674.3,112.9 L668.5,113.7 L664.8,112.2 L661.9,108.5 L659.7,104.9 L657.5,104.1 L654.5,106.0 L649.4,106.0 L645.0,105.5 L640.6,104.3 L635.5,104.0 L631.9,105.0 L626.0,105.9 L620.1,107.8 L615.7,110.0 L609.9,112.9 L605.5,113.7 L601.1,111.5 L597.4,107.8 L593.8,104.9 L589.4,104.1 L585.0,106.3 L584.2,108.5 L579.8,115.1 L573.2,118.1 L568.8,119.5 L565.9,122.4 L561.5,126.1 L557.8,128.3 L555.6,127.3 L558.6,133.4 L563.0,137.8 L567.3,140.7 L569.5,140.0 L571.7,137.8 L574.4,139.0 L573.4,140.5 L575.9,146.7 L577.0,152.8 L575.4,158.0 L572.1,162.1 L572.8,166.7 L580.6,170.8 L587.2,175.4 L587.7,180.1 L593.9,185.2 L597.5,188.8 L601.1,192.9 L604.2,198.1 L605.2,206.3 L606.2,212.1 L609.2,219.4 L612.1,226.7 L613.6,231.9 L617.9,231.1 L623.1,234.1 L624.5,237.0 L628.9,238.5 L636.2,239.2 L634.8,240.7 L628.9,241.4 L626.0,243.6 L621.6,242.8 L617.2,244.3 L612.8,242.1 L610.6,237.0 L609.2,233.3 L605.5,231.1 L601.1,229.7 L596.7,226.0 L592.3,222.4 L587.9,220.2 L585.0,219.4 L586.4,217.2 L583.5,218.0 L579.8,216.5 L576.1,214.3 L571.7,212.1 L567.3,210.6 L564.4,207.7 L566.6,207.0 L565.9,204.8 L563.0,201.9 L560.8,197.5 L562.2,194.5 L563.0,188.7 L564.4,183.6 L567.3,182.1 L566.6,179.9 L564.4,175.5 L566.6,183.2 L565.9,178.8 L564.4,174.4 L563.7,168.6 L562.2,164.2 L560.0,162.0 L555.6,161.5 L548.3,161.2 L543.9,162.0 L542.5,162.7Z" fill="#808080" stroke="#000" stroke-width="0.9" stroke-linejoin="round"/>
<path d="M541,160.5 L546.5,160.5" stroke="#808080" stroke-width="4.5"/>
<path d="M452.9,60.8 L457.0,64.0 L459.3,62.6 L460.2,66.5 L464.3,70.6 L466.7,68.7 L467.2,73.1 L470.5,78.7 L474.9,86.0 L479.3,93.3 L482.9,97.7 L484.8,100.6 L483.3,101.8 L481.0,99.0 L477.3,94.6 L473.0,87.3 L468.6,80.0 L465.3,74.1 L462.4,71.9 L458.0,67.5 L455.1,65.3 L452.2,62.9Z" fill="#808080" stroke="#000" stroke-width="0.9" stroke-linejoin="round"/>
<path d="M506.8,134.3 L509.5,135.0 L514.5,139.5 L513.5,140.6 L510.0,138.5 L507.5,136.5Z" fill="#808080" stroke="#000" stroke-width="0.9" stroke-linejoin="round"/>
<path d="M625.5,5.5 L626.5,7.5 L629.0,8.3 L631.5,7.5 L632.5,5.5Z" fill="#808080" stroke="#000" stroke-width="0.9" stroke-linejoin="round"/>
<path d="M466.5,112.0 L465.5,106.1 L464.6,98.8 M463.6,110.5 L462.6,105.4 L460.4,100.5 M462.6,105.4 L463.1,101.7 M465.5,106.1 L467.2,102.4 M469.0,111.7 L469.9,107.6 M459.9,112.0 L461.4,107.3 M471.3,112.0 L471.6,108.7" fill="none" stroke="#222" stroke-width="1.2" stroke-linecap="round" stroke-linejoin="round"/>
<path d="M553.0,148.8 L554.5,147.6 L556.4,148.1 L557.1,149.8 L555.6,151.7 L553.6,151.3Z" fill="#fff" stroke="#111" stroke-width="0.6"/>
<path d="M564.9,157.1 L566.2,156.8 L566.8,158.3 L566.2,159.8 L567.1,161.5 L565.9,162.3 L565.2,160.5 L565.3,159.0Z" fill="#fff" stroke="#111" stroke-width="0.6"/>
<path d="M580.0,95.8 L581.6,95.0 L587.3,101.2 L586.9,103.3 L584.7,102.6Z" fill="#fff" stroke="#111" stroke-width="0.6"/>
<path d="M441.2,42.4 L443.1,41.8 L444.6,44.3 L443.1,47.9 L441.6,46.5Z" fill="#fff" stroke="#111" stroke-width="0.5"/>
<path d="M622.3,234.1 L626.7,235.5 L628.9,238.2 L635.5,239.3 M624.5,237.7 L627.5,240.7 L631.9,242.1 L634.0,244.3 M612.1,239.9 L615.0,243.1 L617.9,244.3 M616.5,231.9 L619.4,230.0 M609.2,234.1 L607.0,232.9 M626.0,98.3 L630.4,99.2 L633.3,98.0 M628.9,101.2 L634.8,102.1 L639.2,101.8 L642.8,103.0 M643.6,99.7 L648.0,100.6 L650.2,103.6 L653.8,104.7 M634.8,93.9 L632.1,95.9 M645.0,105.6 L649.4,106.8 L653.8,106.2" fill="none" stroke="#111" stroke-width="1.1" stroke-linecap="round" stroke-linejoin="round"/>
<path d="M432.8,170 l1.2,0.8 M446.9,181 l0.6,0.4 M450.8,186.6 l1,0.3 l0,1 z" fill="#222" stroke="#222" stroke-width="0.7"/>
<path d="M452.6,50.9 L455.5,47.9 L458.5,47.2 L461.4,47.9 L464.3,47.9 L466.5,46.5 L468.7,45.7 L471.6,47.9 L498.0,70.6 L500.0,71.3 L508.8,74.3 L519.0,77.2 L527.8,76.5 L531.5,80.1 L535.1,83.1 L539.5,90.4 L542.5,93.3" fill="none" stroke="#111" stroke-width="0.7" stroke-linejoin="round"/>
<path d="M535.1,6.2 L538.8,11.3 L543.9,15.7 L542.5,21.6 L548.3,28.9 L551.2,34.7 L555.6,40.6 L560.0,47.9 L561.5,55.2 L565.9,62.6 L568.1,68.4 L568.8,75.7 L566.6,77.2 L566.6,83.1" fill="none" stroke="#111" stroke-width="0.7" stroke-linejoin="round"/>
<path d="M559.3,83.1 L597.4,83.1 L597.4,81.6 L594.4,77.2 L596.6,68.4 L593.7,59.6 L595.9,53.8 L595.2,46.5 L600.0,46.5 L620.9,46.8 L621.6,43.5 L620.1,37.7 L614.3,27.4 L609.2,18.6 L613.6,6.2" fill="none" stroke="#111" stroke-width="0.7" stroke-linejoin="round"/>
<path d="M589.4,145.6 L593.8,150.0 L598.2,154.4 L599.6,158.8 L604.0,161.0 L608.4,163.2 L621.6,164.7 L627.5,169.1 L631.9,173.5 L631.9,177.8 L639.2,183.0 L685.0,169.1 L690.4,167.5" fill="none" stroke="#111" stroke-width="0.7" stroke-linejoin="round"/>
<path d="M657.0,235.5 L690.0,235.5" fill="none" stroke="#111" stroke-width="0.7" stroke-linejoin="round"/>
<path d="M636.2,239.5 L643.6,238.5 L646.5,241.4 L650.9,239.9 L653.8,237.7 L656.7,235.8" fill="none" stroke="#111" stroke-width="0.7" stroke-linejoin="round"/>
<path d="M599.6,257.0 L595.9,260.7 L597.4,268.0 L599.6,273.8 L604.0,281.1 L604.0,296.4 L587.9,296.4 L587.9,300.1" fill="none" stroke="#111" stroke-width="0.7" stroke-linejoin="round"/>
<path d="M604.0,281.1 L614.2,289.9 L623.7,299.3" fill="none" stroke="#111" stroke-width="0.7" stroke-linejoin="round"/>
<path d="M542.5,184.3 L563.0,184.6" fill="none" stroke="#111" stroke-width="0.7" stroke-linejoin="round"/>
<path d="M553.3,98.1 L660.3,242.9" stroke="#202020" stroke-opacity="0.67" stroke-width="3.4" fill="none"/>
<path d="M452.5,4.9 V300" stroke="#000" stroke-width="1" stroke-dasharray="0.8,1.2" fill="none"/>
<path d="M542.7,4.9 V300" stroke="#000" stroke-width="1" stroke-dasharray="0.8,1.2" fill="none"/>
<path d="M632.9,4.9 V300" stroke="#000" stroke-width="1" stroke-dasharray="0.8,1.2" fill="none"/>
<path d="M417,119.2 H687" stroke="#000" stroke-width="1" stroke-dasharray="0.8,1.2" fill="none"/>
<path d="M417,232.5 H687" stroke="#000" stroke-width="1" stroke-dasharray="0.8,1.2" fill="none"/>
<path d="M498.3,4.8 A3.6,3.6 0 0 0 498.3,12.0 Z" fill="#6a5ae0" stroke="#15104a" stroke-width="0.55"/>
<path d="M498.3,4.8 A3.6,3.6 0 0 1 498.3,12.0 Z" fill="#0a00fa" stroke="#15104a" stroke-width="0.2"/>
<path d="M503.0,5.3 A5.3,5.3 0 0 0 503.0,15.9 Z" fill="#6a5ae0" stroke="#15104a" stroke-width="0.55"/>
<path d="M503.0,5.3 A5.3,5.3 0 0 1 503.0,15.9 Z" fill="#0a00fa" stroke="#15104a" stroke-width="0.2"/>
<path d="M506.1,15.0 A2.9,2.9 0 0 0 506.1,20.8 Z" fill="#6a5ae0" stroke="#15104a" stroke-width="0.55"/>
<path d="M506.1,15.0 A2.9,2.9 0 0 1 506.1,20.8 Z" fill="#0a00fa" stroke="#15104a" stroke-width="0.2"/>
<path d="M485.2,25.3 A2.6,2.6 0 0 0 485.2,30.5 Z" fill="#6a5ae0" stroke="#15104a" stroke-width="0.55"/>
<path d="M485.2,25.3 A2.6,2.6 0 0 1 485.2,30.5 Z" fill="#0a00fa" stroke="#15104a" stroke-width="0.2"/>
<path d="M518.3,57.2 A3.6,3.6 0 0 0 518.3,64.4 Z" fill="#6a5ae0" stroke="#15104a" stroke-width="0.55"/>
<path d="M518.3,57.2 A3.6,3.6 0 0 1 518.3,64.4 Z" fill="#0a00fa" stroke="#15104a" stroke-width="0.2"/>
<path d="M548.0,49.7 A3.6,3.6 0 0 0 548.0,56.9 Z" fill="#6a5ae0" stroke="#15104a" stroke-width="0.55"/>
<path d="M548.0,49.7 A3.6,3.6 0 0 1 548.0,56.9 Z" fill="#0a00fa" stroke="#15104a" stroke-width="0.2"/>
<path d="M578.3,39.1 A5.9,5.9 0 0 0 578.3,50.9 Z" fill="#6a5ae0" stroke="#15104a" stroke-width="0.55"/>
<path d="M578.3,39.1 A5.9,5.9 0 0 1 578.3,50.9 Z" fill="#0a00fa" stroke="#15104a" stroke-width="0.2"/>
<path d="M642.8,25.2 A5.4,5.4 0 0 0 642.8,36.0 Z" fill="#6a5ae0" stroke="#15104a" stroke-width="0.55"/>
<path d="M642.8,25.2 A5.4,5.4 0 0 1 642.8,36.0 Z" fill="#0a00fa" stroke="#15104a" stroke-width="0.2"/>
<path d="M640.6,34.9 A3.1,3.1 0 0 0 640.6,41.1 Z" fill="#6a5ae0" stroke="#15104a" stroke-width="0.55"/>
<path d="M640.6,34.9 A3.1,3.1 0 0 1 640.6,41.1 Z" fill="#0a00fa" stroke="#15104a" stroke-width="0.2"/>
<path d="M623.1,53.4 A5.9,5.9 0 0 0 623.1,65.2 Z" fill="#6a5ae0" stroke="#15104a" stroke-width="0.55"/>
<path d="M623.1,53.4 A5.9,5.9 0 0 1 623.1,65.2 Z" fill="#0a00fa" stroke="#15104a" stroke-width="0.2"/>
<path d="M587.1,84.0 A6.4,6.4 0 0 0 587.1,96.8 Z" fill="#6a5ae0" stroke="#15104a" stroke-width="0.55"/>
<path d="M587.1,84.8 A5.6,5.6 0 0 1 587.1,96.0 Z" fill="#0a00fa" stroke="#15104a" stroke-width="0.2"/>
<path d="M531.0,92.6 A3.6,3.6 0 0 0 531.0,99.8 Z" fill="#6a5ae0" stroke="#15104a" stroke-width="0.55"/>
<path d="M531.0,92.6 A3.6,3.6 0 0 1 531.0,99.8 Z" fill="#0a00fa" stroke="#15104a" stroke-width="0.2"/>
<path d="M531.9,113.5 A4.0,4.0 0 0 0 531.9,121.5 Z" fill="#6a5ae0" stroke="#15104a" stroke-width="0.55"/>
<path d="M531.9,114.3 A3.2,3.2 0 0 1 531.9,120.7 Z" fill="#0a00fa" stroke="#15104a" stroke-width="0.2"/>
<path d="M535.1,124.2 A6.8,6.8 0 0 0 535.1,137.8 Z" fill="#6a5ae0" stroke="#15104a" stroke-width="0.55"/>
<path d="M535.1,125.1 A5.9,5.9 0 0 1 535.1,136.9 Z" fill="#0a00fa" stroke="#15104a" stroke-width="0.2"/>
<path d="M566.6,130.6 A2.6,2.6 0 0 0 566.6,135.8 Z" fill="#6a5ae0" stroke="#15104a" stroke-width="0.55"/>
<path d="M566.6,131.4 A1.8,1.8 0 0 1 566.6,135.0 Z" fill="#0a00fa" stroke="#15104a" stroke-width="0.2"/>
<path d="M550.0,163.2 A12.3,12.3 0 0 0 550.0,187.8 Z" fill="#6a5ae0" stroke="#15104a" stroke-width="0.55"/>
<path d="M550.0,170.0 A5.5,5.5 0 0 1 550.0,181.0 Z" fill="#0a00fa" stroke="#15104a" stroke-width="0.2"/>
<path d="M556.9,157.9 A8.0,8.0 0 0 0 556.9,173.9 Z" fill="#6a5ae0" stroke="#15104a" stroke-width="0.55"/>
<path d="M556.9,159.9 A6.0,6.0 0 0 1 556.9,171.9 Z" fill="#0a00fa" stroke="#15104a" stroke-width="0.2"/>
<path d="M562.7,164.7 A8.2,8.2 0 0 0 562.7,181.1 Z" fill="#6a5ae0" stroke="#15104a" stroke-width="0.55"/>
<path d="M562.7,166.9 A6.0,6.0 0 0 1 562.7,178.9 Z" fill="#0a00fa" stroke="#15104a" stroke-width="0.2"/>
<path d="M555.7,171.9 A4.6,4.6 0 0 0 555.7,181.1 Z" fill="#6a5ae0" stroke="#15104a" stroke-width="0.55"/>
<path d="M555.7,173.5 A3.0,3.0 0 0 1 555.7,179.5 Z" fill="#0a00fa" stroke="#15104a" stroke-width="0.2"/>
<path d="M547.0,183.9 A9.0,9.0 0 0 0 547.0,201.9 Z" fill="#6a5ae0" stroke="#15104a" stroke-width="0.55"/>
<path d="M547.0,186.9 A6.0,6.0 0 0 1 547.0,198.9 Z" fill="#0a00fa" stroke="#15104a" stroke-width="0.2"/>
<path d="M553.1,192.2 A3.8,3.8 0 0 0 553.1,199.8 Z" fill="#6a5ae0" stroke="#15104a" stroke-width="0.55"/>
<path d="M553.1,192.2 A3.8,3.8 0 0 1 553.1,199.8 Z" fill="#0a00fa" stroke="#15104a" stroke-width="0.2"/>
<path d="M586.0,145.6 A9.8,9.8 0 0 0 586.0,165.2 Z" fill="#6a5ae0" stroke="#15104a" stroke-width="0.55"/>
<path d="M586.0,153.1 A2.3,2.3 0 0 1 586.0,157.7 Z" fill="#0a00fa" stroke="#15104a" stroke-width="0.2"/>
<path d="M586.0,150.3 A7.2,7.2 0 0 0 586.0,164.7 Z" fill="#6a5ae0" stroke="#15104a" stroke-width="0.55"/>
<path d="M586.0,154.5 A3.0,3.0 0 0 1 586.0,160.5 Z" fill="#0a00fa" stroke="#15104a" stroke-width="0.2"/>
<path d="M590.6,157.3 A7.4,7.4 0 0 0 590.6,172.1 Z" fill="#6a5ae0" stroke="#15104a" stroke-width="0.55"/>
<path d="M590.6,160.8 A3.9,3.9 0 0 1 590.6,168.6 Z" fill="#0a00fa" stroke="#15104a" stroke-width="0.2"/>
<path d="M586.5,168.8 A4.9,4.9 0 0 0 586.5,178.6 Z" fill="#6a5ae0" stroke="#15104a" stroke-width="0.55"/>
<path d="M586.5,171.7 A2.0,2.0 0 0 1 586.5,175.7 Z" fill="#0a00fa" stroke="#15104a" stroke-width="0.2"/>
<path d="M607.3,112.5 A5.0,5.0 0 0 0 607.3,122.5 Z" fill="#6a5ae0" stroke="#15104a" stroke-width="0.55"/>
<path d="M607.3,112.5 A5.0,5.0 0 0 1 607.3,122.5 Z" fill="#0a00fa" stroke="#15104a" stroke-width="0.2"/>
<path d="M626.3,115.6 A6.9,6.9 0 0 0 626.3,129.4 Z" fill="#6a5ae0" stroke="#15104a" stroke-width="0.55"/>
<path d="M626.3,117.7 A4.8,4.8 0 0 1 626.3,127.3 Z" fill="#0a00fa" stroke="#15104a" stroke-width="0.2"/>
<path d="M624.5,128.5 A10.5,10.5 0 0 0 624.5,149.5 Z" fill="#6a5ae0" stroke="#15104a" stroke-width="0.55"/>
<path d="M624.5,131.6 A7.4,7.4 0 0 1 624.5,146.4 Z" fill="#0a00fa" stroke="#15104a" stroke-width="0.2"/>
<path d="M667.3,117.8 A5.1,5.1 0 0 0 667.3,128.0 Z" fill="#6a5ae0" stroke="#15104a" stroke-width="0.55"/>
<path d="M667.3,117.8 A5.1,5.1 0 0 1 667.3,128.0 Z" fill="#0a00fa" stroke="#15104a" stroke-width="0.2"/>
<path d="M672.4,124.9 A5.4,5.4 0 0 0 672.4,135.7 Z" fill="#6a5ae0" stroke="#15104a" stroke-width="0.55"/>
<path d="M672.4,124.9 A5.4,5.4 0 0 1 672.4,135.7 Z" fill="#0a00fa" stroke="#15104a" stroke-width="0.2"/>
<path d="M639.2,165.4 A4.4,4.4 0 0 0 639.2,174.2 Z" fill="#6a5ae0" stroke="#15104a" stroke-width="0.55"/>
<path d="M639.2,165.4 A4.4,4.4 0 0 1 639.2,174.2 Z" fill="#0a00fa" stroke="#15104a" stroke-width="0.2"/>
<path d="M653.1,183.5 A5.4,5.4 0 0 0 653.1,194.3 Z" fill="#6a5ae0" stroke="#15104a" stroke-width="0.55"/>
<path d="M653.1,184.5 A4.4,4.4 0 0 1 653.1,193.3 Z" fill="#0a00fa" stroke="#15104a" stroke-width="0.2"/>
<path d="M671.4,188.4 A4.0,4.0 0 0 0 671.4,196.4 Z" fill="#6a5ae0" stroke="#15104a" stroke-width="0.55"/>
<path d="M671.4,189.9 A2.5,2.5 0 0 1 671.4,194.9 Z" fill="#0a00fa" stroke="#15104a" stroke-width="0.2"/>
<path d="M616.2,181.6 A6.1,6.1 0 0 0 616.2,193.8 Z" fill="#6a5ae0" stroke="#15104a" stroke-width="0.55"/>
<path d="M616.2,184.5 A3.2,3.2 0 0 1 616.2,190.9 Z" fill="#0a00fa" stroke="#15104a" stroke-width="0.2"/>
<path d="M603.3,178.2 A6.6,6.6 0 0 0 603.3,191.4 Z" fill="#6a5ae0" stroke="#15104a" stroke-width="0.55"/>
<path d="M603.3,182.8 A2.0,2.0 0 0 1 603.3,186.8 Z" fill="#0a00fa" stroke="#15104a" stroke-width="0.2"/>
<path d="M608.4,179.2 A4.1,4.1 0 0 0 608.4,187.4 Z" fill="#6a5ae0" stroke="#15104a" stroke-width="0.55"/>
<path d="M608.4,181.3 A2.0,2.0 0 0 1 608.4,185.3 Z" fill="#0a00fa" stroke="#15104a" stroke-width="0.2"/>
<path d="M616.5,196.0 A6.1,6.1 0 0 0 616.5,208.2 Z" fill="#6a5ae0" stroke="#15104a" stroke-width="0.55"/>
<path d="M616.5,200.3 A1.8,1.8 0 0 1 616.5,203.9 Z" fill="#0a00fa" stroke="#15104a" stroke-width="0.2"/>
<path d="M636.0,210.4 A9.1,9.1 0 0 0 636.0,228.6 Z" fill="#6a5ae0" stroke="#15104a" stroke-width="0.55"/>
<path d="M636.0,215.4 A4.1,4.1 0 0 0 636.0,223.6 Z" fill="#6a5ae0" stroke="#15104a" stroke-width="0.55"/>
<path d="M636.0,217.3 A2.2,2.2 0 0 0 636.0,221.7 Z" fill="#6a5ae0" stroke="#15104a" stroke-width="0.55"/>
<path d="M563.3,205.3 A6.6,6.6 0 0 0 563.3,218.5 Z" fill="#6a5ae0" stroke="#15104a" stroke-width="0.55"/>
<path d="M563.3,205.3 A6.6,6.6 0 0 1 563.3,218.5 Z" fill="#0a00fa" stroke="#15104a" stroke-width="0.2"/>
<path d="M578.3,219.2 A6.3,6.3 0 0 0 578.3,231.8 Z" fill="#6a5ae0" stroke="#15104a" stroke-width="0.55"/>
<path d="M578.3,219.2 A6.3,6.3 0 0 1 578.3,231.8 Z" fill="#0a00fa" stroke="#15104a" stroke-width="0.2"/>
<path d="M584.9,232.0 A4.8,4.8 0 0 0 584.9,241.6 Z" fill="#6a5ae0" stroke="#15104a" stroke-width="0.55"/>
<path d="M584.9,232.0 A4.8,4.8 0 0 1 584.9,241.6 Z" fill="#0a00fa" stroke="#15104a" stroke-width="0.2"/>
<path d="M591.5,229.4 A5.9,5.9 0 0 0 591.5,241.2 Z" fill="#6a5ae0" stroke="#15104a" stroke-width="0.55"/>
<path d="M591.5,229.4 A5.9,5.9 0 0 1 591.5,241.2 Z" fill="#0a00fa" stroke="#15104a" stroke-width="0.2"/>
<path d="M600.4,238.0 A9.2,9.2 0 0 0 600.4,256.4 Z" fill="#6a5ae0" stroke="#15104a" stroke-width="0.55"/>
<path d="M600.4,238.0 A9.2,9.2 0 0 1 600.4,256.4 Z" fill="#0a00fa" stroke="#15104a" stroke-width="0.2"/>
<path d="M617.6,253.0 A9.2,9.2 0 0 0 617.6,271.4 Z" fill="#6a5ae0" stroke="#15104a" stroke-width="0.55"/>
<path d="M617.6,255.3 A6.9,6.9 0 0 1 617.6,269.1 Z" fill="#0a00fa" stroke="#15104a" stroke-width="0.2"/>
<path d="M632.2,260.8 A8.0,8.0 0 0 0 632.2,276.8 Z" fill="#6a5ae0" stroke="#15104a" stroke-width="0.55"/>
<path d="M632.2,263.3 A5.5,5.5 0 0 1 632.2,274.3 Z" fill="#0a00fa" stroke="#15104a" stroke-width="0.2"/>
<path d="M644.1,262.8 A11.0,11.0 0 0 0 644.1,284.8 Z" fill="#6a5ae0" stroke="#15104a" stroke-width="0.55"/>
<path d="M644.1,266.2 A7.6,7.6 0 0 1 644.1,281.4 Z" fill="#0a00fa" stroke="#15104a" stroke-width="0.2"/>
<path d="M641.9,279.9 A8.5,8.5 0 0 0 641.9,296.9 Z" fill="#6a5ae0" stroke="#15104a" stroke-width="0.55"/>
<path d="M641.9,282.1 A6.3,6.3 0 0 1 641.9,294.7 Z" fill="#0a00fa" stroke="#15104a" stroke-width="0.2"/>
<path d="M659.6,256.0 A7.3,7.3 0 0 0 659.6,270.6 Z" fill="#6a5ae0" stroke="#15104a" stroke-width="0.55"/>
<path d="M659.6,258.9 A4.4,4.4 0 0 1 659.6,267.7 Z" fill="#0a00fa" stroke="#15104a" stroke-width="0.2"/>
<path d="M667.5,285.2 A6.1,6.1 0 0 0 667.5,297.4 Z" fill="#6a5ae0" stroke="#15104a" stroke-width="0.55"/>
<path d="M667.5,285.2 A6.1,6.1 0 0 1 667.5,297.4 Z" fill="#0a00fa" stroke="#15104a" stroke-width="0.2"/>
<g transform="translate(0,0.0)">
<path d="M427.8,210.1 H460.1 M427.8,203.6 V216.6 M460.1,203.6 V216.6" stroke="#111" stroke-width="1.3" fill="none"/>
<text x="443.6" y="202" font-size="7.8" text-anchor="middle">km</text>
<text x="443.8" y="222.2" font-size="7.8" text-anchor="middle">20</text>
</g>
<rect x="421.9" y="243.8" width="133.4" height="51" rx="2.2" fill="#fff" fill-opacity="0.8" stroke="#ccc" stroke-opacity="0.8" stroke-width="0.8"/>
<path d="M425,253 H450.5" stroke="#202020" stroke-opacity="0.67" stroke-width="3.6"/>
<circle cx="437.6" cy="269.6" r="2.9" fill="#6a5ae0" stroke="#333" stroke-width="0.5"/>
<circle cx="437.6" cy="285.6" r="2.9" fill="#0a00fa" stroke="#222" stroke-width="0.5"/>
<text x="457.3" y="257.0" font-size="10.85" fill="#000">Rupture Scenario</text>
<text x="457.3" y="273.0" font-size="10.85" fill="#000">Pre-EQ Beds</text>
<text x="457.3" y="288.8" font-size="10.85" fill="#000">Post-EQ Beds</text>
<circle cx="434.7" cy="164.8" r="12.6" fill="#f4f4f4" stroke="#000" stroke-width="1.2"/>
<circle cx="435.3" cy="171.1" r="6.4" fill="#fff" stroke="#000" stroke-width="1.2"/>
<path d="M434.3,150.4 H457 M434.3,164.1 H457" stroke="#000" stroke-width="1.2"/>
<text x="458.7" y="151.3" font-size="10.7" fill="#000">800 beds</text>
<text x="458.7" y="165.1" font-size="10.7" fill="#000">200 beds</text>
</g>
<path d="M686,4.9 H417 V300 H686" fill="none" stroke="#000" stroke-width="2.1"/>
<path d="M684.9,4.9 V300" fill="none" stroke="#000" stroke-width="1" stroke-opacity="0.7"/>
<text x="414" y="8.6" font-size="10.7" text-anchor="end">38.5°N</text>
<text x="414" y="122.1" font-size="10.7" text-anchor="end">38°N</text>
<text x="414" y="235.4" font-size="10.7" text-anchor="end">37.5°N</text>
<text x="452.5" y="311.8" font-size="10.7" text-anchor="middle">123°W</text>
<text x="542.7" y="311.8" font-size="10.7" text-anchor="middle">122.5°W</text>
<text x="632.9" y="311.8" font-size="10.7" text-anchor="middle">122°W</text>
<text class="ser" transform="translate(344,27.5) scale(1,1.12)" font-size="17.4">(b)</text>
</g>
<g transform="translate(0,329.1)">
<clipPath id="cd"><rect x="417" y="4.9" width="270" height="295.1"/></clipPath>
<rect x="417" y="4.9" width="270" height="295.1" fill="#fff"/>
<g clip-path="url(#cd)">
<g transform="translate(0,0.4)">
<path d="M430.6,17.7 L435.0,13.3 L443.8,14.7 L447.5,8.9 L452.6,6.7 M458.5,6.0 L461.4,10.4 L470.2,9.6 L476.0,16.2 L480.4,23.5 L486.3,29.4 L492.1,33.8 L498.0,42.6 L503.8,48.4 L509.7,54.3 L516.0,59.4 M452.6,42.6 L459.9,39.6 L467.2,33.8 L474.6,28.7 L483.3,27.9 L492.1,22.1 L495.1,19.1 M471.6,47.0 L470.2,54.3 L470.9,60.1 L467.2,67.5 M467.2,63.1 L474.6,60.1 L481.9,57.2 L489.2,54.3 L495.1,58.7 L503.8,57.9 L516.0,61.6 M477.5,86.5 L484.8,82.1 L492.1,79.2 L499.5,83.6 L503.8,80.6 L509.7,88.0 L516.0,92.3 M480.4,48.4 L487.7,52.8 L492.1,47.0 L498.0,45.5 L503.8,44.0 L511.2,42.6 L516.0,41.1 M471.6,6.0 L477.5,13.3 L484.8,11.8 L493.6,14.7 M440.9,38.2 L446.7,47.0 L451.9,51.4 L454.4,60.1 L458.5,68.9 L461.4,77.7 L462.6,86.5 L459.9,98.2 M503.8,4.5 L505.3,22.1 L504.6,48.4 L509.7,54.3 M512.6,10.4 L509.7,17.7 L503.8,22.1 M471.6,93.9 L479.0,96.8 L486.3,101.2 L492.1,110.0 L498.0,118.8 L503.8,127.6 L509.7,133.4 M486.3,101.2 L489.2,108.5 L498.0,107.1 L503.8,114.4 L509.7,115.9 L516.0,114.4 M459.9,89.5 L451.1,118.1 M464.3,98.3 L470.2,93.9 L474.6,92.4 M500.0,8.9 L508.8,13.3 L517.6,11.8 L526.4,17.7 L535.1,26.5 L539.5,35.2 L542.5,45.5 L543.9,55.7 L549.8,66.0 L551.2,77.7 L552.7,83.6 M500.0,30.9 L505.9,38.2 L511.7,48.4 L517.6,58.7 L523.4,63.1 L532.2,68.9 L538.1,73.3 L541.0,80.6 M500.0,42.6 L507.3,52.8 L514.6,60.1 L522.0,66.0 M504.4,13.3 L505.9,27.9 L504.4,42.6 L502.9,52.8 M500.0,52.8 L508.8,52.8 L511.7,47.0 M543.9,48.4 L548.3,57.2 L558.6,60.1 L564.4,58.7 M548.3,7.4 L555.6,13.3 L563.0,25.0 L570.3,36.7 L576.1,45.5 L582.0,48.4 L587.8,41.1 L595.2,36.7 L600.0,33.8 M558.6,6.0 L565.9,13.3 L573.2,22.1 L579.1,33.8 L583.5,45.5 L584.9,60.1 L586.4,73.3 L587.8,83.6 M571.7,47.0 L582.0,47.0 L582.0,52.8 L573.2,58.7 M582.0,10.4 L590.8,16.2 L596.6,23.5 L600.0,25.0 M500.0,77.7 L505.9,83.6 L514.6,86.5 L523.4,92.3 L529.3,98.2 M529.3,80.6 L531.5,92.3 L531.5,98.2 M516.1,60.1 L522.0,64.5 L519.0,61.6 L523.4,60.1 M587.8,86.5 L596.6,86.5 L596.6,98.2 M590.8,86.5 L590.8,98.2 M593.7,86.5 L593.7,98.2 M586.4,90.9 L598.1,90.9 M586.4,94.5 L598.1,94.5 M668.5,6.0 L633.3,39.6 L620.1,60.1 L602.6,73.3 L593.8,83.6 L585.0,92.3 M587.9,7.4 L596.7,16.2 L595.2,30.9 L604.0,41.1 L609.9,52.8 L612.8,63.1 L607.0,68.9 M585.0,41.1 L595.2,36.7 L599.6,33.8 M604.0,60.1 L614.3,63.1 L624.5,60.1 M642.1,6.0 L642.1,22.1 L640.6,32.3 L643.6,42.6 L640.6,49.9 L636.2,52.8 M631.9,38.2 L648.0,38.9 L664.1,41.1 M664.1,11.8 L664.8,52.8 L667.0,54.3 L667.0,76.2 M658.2,16.2 L664.1,16.2 M620.1,55.7 L643.6,56.5 M628.9,52.8 L628.9,63.1 M634.8,57.2 L634.8,63.1 M607.0,68.9 L612.8,80.6 L612.8,92.3 L609.9,98.2 M636.2,27.9 L636.2,33.8 M633.3,23.5 L642.1,22.8 M585.0,86.5 L595.2,86.5 M585.0,90.9 L595.2,90.9 M585.0,95.3 L595.2,95.3 M587.9,85.0 L587.9,98.2 M591.6,85.0 L591.6,98.2 M500.0,108.5 L508.8,111.5 L517.6,110.7 L526.4,112.9 L533.7,115.9 L542.5,114.4 M511.7,91.0 L519.0,96.8 L526.4,102.7 L530.7,108.5 L536.6,114.4 L539.5,123.2 L541.0,132.0 L540.3,140.7 L541.7,148.1 L543.9,155.4 M500.0,120.2 L507.3,124.6 L514.6,123.9 L522.0,126.8 L529.3,126.1 L536.6,130.5 M533.7,139.3 L529.3,145.1 L524.9,149.5 L519.0,148.1 M545.4,132.0 L555.6,133.4 L564.4,132.0 M564.4,159.8 L573.2,158.3 M543.9,156.8 L544.7,162.0 M557.8,128.3 L564.4,133.4 L571.7,137.8 M570.3,118.8 L576.1,127.6 L582.0,137.8 L587.8,148.1 L593.7,155.4 L600.0,162.7 M587.8,89.5 L593.7,95.4 L600.0,98.3 M582.0,118.8 L587.8,124.6 L595.2,127.6 L600.0,133.4 M576.1,130.5 L584.9,136.4 L593.7,137.8 L600.0,140.7 M536.6,123.2 L538.1,133.4 L537.3,142.2 M538.8,115.9 L539.5,124.6 M500.0,98.3 L508.8,95.4 L517.6,98.3 L529.3,93.9 M577.6,139.3 L582.0,151.0 L587.8,158.3 L593.7,165.6 L600.0,173.0 M579.1,153.9 L584.9,162.7 L590.8,171.5 L596.6,180.3 M585.0,110.0 L592.3,112.9 L599.6,111.5 L607.0,115.9 L614.3,114.4 L620.1,118.8 L621.6,127.6 L620.1,137.8 L621.6,145.1 L627.5,152.5 L631.9,159.8 L636.2,171.5 L640.6,180.3 M620.1,123.2 L628.9,124.6 L637.7,127.6 L646.5,133.4 L655.3,139.3 L664.1,143.7 L672.8,145.1 L680.2,148.1 M633.3,112.9 L643.6,111.5 L652.3,112.9 L661.1,117.3 L669.9,118.8 L678.7,118.1 L685.0,118.8 M585.0,124.6 L593.8,127.6 L602.6,126.1 L611.4,132.0 L614.3,137.8 L612.8,145.1 L608.4,153.9 M621.6,124.6 L626.0,130.5 L628.9,134.9 M585.0,140.7 L590.9,145.1 L596.7,151.0 L599.6,158.3 M633.3,165.6 L643.6,164.2 L652.3,162.7 L656.7,167.1 L655.3,177.3 L648.0,183.2 M640.6,171.5 L646.5,174.4 M614.3,115.9 L623.1,123.2 L626.0,133.4 L624.5,126.1 M608.4,112.9 L615.7,118.8 L621.6,123.2 M636.2,111.5 L646.5,114.4 L653.8,112.9 L658.2,115.9 M605.5,187.9 L618.7,188.7 L628.9,186.0 L643.6,186.9 L652.3,186.5 L664.1,188.7 L672.8,187.2 L685.0,184.3 M643.6,182.1 L650.2,194.5 L654.5,204.8 L655.3,210.6 L649.4,218.0 L643.6,225.3 M669.9,200.4 L672.8,193.1 L678.7,190.1 M601.1,182.8 L614.3,200.4 L626.0,213.6 L634.8,223.8 L643.6,234.1 L650.9,244.3 L655.3,255.3 L661.1,263.3 M607.0,197.5 L618.7,212.1 L628.9,223.8 L637.7,235.5 L646.5,248.7 M585.0,212.1 L593.8,208.4 L604.0,204.1 M585.0,222.4 L590.9,226.7 L596.7,232.6 L602.6,239.9 L608.4,244.3 M655.3,210.6 L664.1,216.5 L672.8,213.6 L678.7,219.4 M634.8,209.2 L643.6,213.6 L649.4,218.0 M614.3,219.4 L623.1,223.8 L631.9,225.3 M604.0,204.8 L614.3,213.6 L621.6,223.8 L628.9,234.1 L636.2,244.3 L643.6,254.6 L649.4,263.3 M543.9,185.7 L549.8,197.5 L557.1,207.7 L565.9,216.5 L574.7,225.3 L583.5,234.1 L593.7,244.3 L600.0,251.6 M546.9,184.3 L552.7,196.0 L561.5,206.2 L570.3,213.6 L579.1,220.9 L587.8,228.2 L596.6,237.0 M543.9,201.9 L549.8,204.8 L558.6,213.6 L567.3,223.8 L576.1,234.1 L582.0,244.3 L587.8,254.6 L593.7,263.3 M552.7,232.6 L561.5,234.1 L568.8,231.1 L579.1,234.1 L587.8,237.0 M554.2,237.0 L561.5,245.8 L570.3,251.6 L579.1,257.5 L584.9,269.2 M564.4,234.1 L568.8,244.3 L576.1,253.1 L583.5,257.5 M561.5,223.8 L568.8,228.2 L579.1,223.8 L587.8,220.9 M582.0,231.1 L587.8,244.3 L593.7,251.6 L600.0,254.6 M587.8,209.2 L593.7,207.0 L600.0,206.2 M558.6,257.5 L564.4,260.4 L570.3,257.5 L579.1,259.0 M560.0,242.8 L564.4,244.3 L566.6,247.2 M585.0,233.1 L593.8,237.5 L602.6,240.5 L611.4,247.8 L620.1,256.6 L628.9,266.8 L637.7,277.1 L646.5,287.3 L653.8,297.6 M585.0,247.8 L592.3,252.2 L599.6,259.5 L605.5,268.3 L614.3,277.1 L623.1,282.9 L634.8,291.7 L643.6,297.6 M587.9,236.1 L593.8,247.8 L598.2,259.5 L601.1,271.2 L605.5,282.9 L614.3,291.7 L621.6,297.6 M599.6,244.9 L608.4,243.4 L617.2,247.8 L628.9,249.2 M665.5,258.0 L672.8,262.4 L678.7,266.8 L685.0,268.3 M653.8,255.1 L661.1,262.4 L667.0,271.2 L672.8,281.5 L678.7,290.2 L685.0,296.1 M658.2,255.1 L667.0,266.8 L675.8,280.0 L683.1,291.7 M585.0,262.4 L590.9,265.4 L596.7,274.1 L598.2,285.8 L604.0,297.6 M459.1,234.0 L454.9,238.0 L452.2,243.2 L449.7,248.4 L448.8,254.2 L447.9,260.0 L447.7,265.8 L448.3,271.6 L447.2,277.3 L443.2,281.5 L440.9,286.9 L436.6,290.8 M526.5,278.9 L523.7,284.6 L519.3,289.2 L514.7,293.7 L510.0,298.1 M627.6,200.7 L622.7,204.0 L617.2,206.4 L611.7,208.5 L607.6,212.8 L605.1,218.1 L601.5,222.9 L598.1,227.7 L595.2,232.9 L592.7,238.3 L590.1,243.6 M517.6,84.8 L522.4,79.9 L528.5,76.7 L534.3,73.0 L540.7,70.6 L546.3,66.6 L548.7,60.2 L546.8,53.6 M598.6,156.9 L591.9,157.1 L585.3,158.0 L578.9,156.2 L573.2,152.7 M562.4,286.2 L563.5,292.5 L564.8,298.7 L567.0,304.7 L570.7,309.9 M555.7,222.6 L551.9,228.1 L548.0,233.6 L543.9,238.9 L543.4,245.6 L543.2,252.3 L540.5,258.5 L537.4,264.5 L534.8,270.7 M564.5,59.2 L569.6,53.3 L570.4,45.6 L572.9,38.3 L577.6,32.1 L583.1,26.6 L586.6,19.7 M457.3,107.1 L460.5,100.0 L467.0,95.8 L472.9,90.7 L476.2,83.6 L478.5,76.2 L483.8,70.5 L486.1,63.1 L489.3,56.0 L493.3,49.3 M551.7,239.4 L548.2,236.3 L545.3,232.7 L542.9,228.7 L540.5,224.6 L537.5,221.1 L533.6,218.5 L529.3,216.7 L524.8,215.2 L520.2,216.0 L515.6,215.6 M482.1,199.5 L484.8,194.9 L487.0,189.9 L491.6,187.3 L496.8,185.7 L499.1,180.8 L502.2,176.4 L506.7,173.5 L511.5,171.2 M689.8,155.3 L685.7,159.2 L682.1,163.7 L679.9,169.0 L676.7,173.6 L673.2,178.2 L669.8,182.8 M632.9,259.9 L628.5,253.6 L623.5,247.8 L620.9,240.6 L614.2,236.9 M613.4,64.2 L608.5,66.4 L605.0,70.6 L601.9,75.1 L596.5,75.3 L591.8,72.5 L588.6,68.2 L584.2,65.0 M480.1,57.8 L472.8,60.8 L465.8,64.2 L458.5,67.2 L451.5,70.6 M499.4,282.2 L503.4,278.4 L508.9,277.6 L513.2,274.1 L518.2,271.8 L523.7,271.8 L528.9,273.7 L534.5,273.8 L539.9,274.7 L543.7,278.7 L549.0,280.2 M449.9,296.6 L452.8,292.4 L454.9,287.8 L456.1,282.9 L460.1,279.8 L465.2,279.3 L469.7,276.9 L474.1,274.5 L479.1,275.7 L483.8,277.4 L487.1,281.3 M516.0,144.3 L512.0,149.5 L509.0,155.3 L504.3,159.8 L500.0,164.6 L498.3,170.9 L494.4,176.2 L490.1,181.0 L483.8,182.9 L477.3,182.5 L470.8,182.4 L464.3,182.2 M522.0,10.6 L520.6,4.4 L522.5,-1.7 L526.0,-7.0 L530.8,-11.0 L534.1,-16.4 L537.2,-21.9 L541.0,-27.0 L543.8,-32.7 M591.2,168.9 L585.2,166.2 L578.8,164.6 L572.4,163.3 L565.9,164.6 L559.7,166.6 L553.1,167.3 L546.7,168.6 L540.1,168.9 M473.7,288.4 L467.0,288.5 L460.7,286.3 L455.7,281.9 L451.6,276.6 L446.9,271.8 L441.0,268.7 L434.3,267.8 M650.7,297.2 L647.9,289.9 L643.1,283.8 L637.7,278.2 L631.6,273.3 L625.3,268.8 L618.9,264.3 L614.0,258.2 L606.2,257.5 M662.9,246.9 L656.5,243.2 L650.4,238.8 L645.5,233.1 L641.3,226.9 L636.9,220.9 L630.5,217.0 L623.6,214.1 L616.5,216.5 L609.8,219.8 M504.9,16.5 L502.0,21.7 L499.3,27.0 L497.1,32.4 L495.3,38.1 L492.6,43.3 L489.8,48.5 L485.5,52.5 L481.8,57.1 L480.0,62.8 M678.2,145.9 L675.3,139.9 L671.9,134.1 L669.9,127.7 L669.0,121.1 L668.2,114.5 L669.9,108.0 L673.6,102.4 L677.2,96.8 L682.2,92.4 M550.4,18.4 L555.3,13.1 L557.5,6.2 L559.7,-0.7 L563.7,-6.7 L568.9,-11.7 L572.4,-18.1 L574.1,-25.1 L576.1,-32.0 L575.2,-39.2 L570.4,-44.7 L563.9,-47.8 M555.1,82.4 L560.6,78.8 L565.8,74.9 L571.7,72.0 L577.7,69.2 L584.2,69.9 L590.8,70.3 L596.9,72.6 M523.4,162.0 L520.0,165.6 L515.5,167.8 L511.2,170.3 L506.9,172.8 L502.0,173.1 L497.6,175.5 L495.0,179.7 L493.4,184.4 L493.9,189.3 M582.4,240.7 L589.5,239.7 L596.7,239.3 L603.8,237.7 L609.9,233.8 L617.0,232.6 L623.9,230.6 L630.5,227.6 M615.6,108.8 L619.4,104.4 L623.4,100.2 L628.1,96.7 L630.9,91.6 L630.7,85.7 L629.7,80.0 L627.6,74.5 L623.4,70.5 L618.4,67.4 L612.6,67.1 M583.7,280.8 L587.7,276.4 L591.8,272.1 L596.7,268.7 L602.2,266.3 M543.8,269.4 L550.2,271.7 L554.3,277.2 L559.6,281.4 L559.4,288.2 L554.9,293.3 L550.8,298.7 L551.9,305.4 L553.1,312.1 L554.2,318.8 L559.8,322.7 L565.3,326.7 M462.2,118.6 L466.4,122.2 L471.9,122.8 L477.3,123.9 L482.6,125.4 L487.3,128.4 L491.0,132.5 M502.2,207.8 L506.8,206.4 L511.6,206.7 L515.7,204.2 L519.6,201.4 L524.4,201.0 L529.2,201.6 M568.9,246.2 L574.0,250.4 L578.7,255.0 L583.7,259.3 L589.8,261.8 M668.5,293.9 L675.7,296.2 L683.3,296.1 L686.8,289.4 L686.5,281.8 L685.9,274.2 L684.8,266.7 L684.9,259.1 M669.2,175.3 L674.3,172.8 L677.4,168.0 L682.7,165.7 L688.1,164.1 L691.1,159.2 L691.8,153.6 L687.9,149.4 L687.5,143.7 M576.1,299.4 L574.8,304.1 L573.6,308.8 L572.8,313.7 L573.6,318.6 L572.7,323.4 L571.1,328.1 M603.3,267.7 L608.6,272.4 L612.6,278.3 L616.9,283.9 L620.8,289.8 L624.9,295.5 L627.0,302.3 L626.8,309.3 M646.3,149.0 L646.2,154.8 L647.4,160.4 L647.5,166.2 L652.3,169.3 M502.5,114.0 L506.1,117.0 L510.5,118.7 L514.9,120.3 L519.2,122.3 M616.1,100.5 L611.5,100.0 L607.3,98.1 L603.4,95.6 L599.9,92.7 L595.9,90.3 M594.9,73.7 L595.5,68.4 L595.5,63.1 L594.6,57.9 L593.8,52.6 M470.0,126.5 L471.6,132.0 L474.3,137.1 L475.8,142.6 L473.5,147.9 L476.7,152.7 L480.4,157.1 L483.5,161.9 L486.7,166.7 M528.8,87.6 L528.9,81.7 L528.5,75.8 L523.6,72.5 L519.5,68.2 L520.3,62.3 M635.0,229.0 L638.2,234.9 L642.4,240.1 L648.0,243.7 L652.9,248.2 L655.3,254.4 L655.4,261.1 L654.1,267.7 L651.9,274.0 L652.2,280.7 L653.2,287.3 L655.6,293.5 M453.6,212.6 L458.7,212.0 L463.8,213.0 L468.2,215.6 L473.2,216.4 M578.7,92.2 L586.7,92.2 L593.8,88.7 L601.3,85.9 L609.2,87.3 M501.8,265.6 L498.0,263.1 L493.8,261.5 L489.5,260.1 L485.4,258.3 L480.9,257.8 L476.4,257.5 M684.8,249.3 L679.3,249.2 L674.1,251.2 L672.1,256.4 L671.7,261.9 L669.2,266.9 L668.9,272.4 L671.6,277.3 L673.5,282.4 L677.2,286.6 L679.6,291.6 M645.4,69.1 L646.0,74.9 L646.2,80.8 L647.3,86.6 L647.2,92.5 L648.0,98.3 M583.6,39.6 L582.4,32.0 L578.1,25.7 L574.2,19.1 L567.9,14.7 L564.4,7.9 L561.0,1.0 M537.0,42.8 L532.6,43.6 L528.9,46.0 L526.0,49.3 L525.2,53.7 L527.2,57.7 L529.8,61.2 L532.0,65.1 L533.9,69.1 M486.5,101.3 L493.0,102.6 L499.5,101.4 L505.1,105.0 L508.6,110.6 L512.6,115.9 L518.4,119.2 L524.7,121.1 L530.5,124.4 L534.3,129.8 L540.9,129.7 L546.6,133.1 M639.0,210.0 L642.1,205.4 L642.2,199.9 L642.2,194.3 L644.3,189.1 L647.5,184.5 L652.2,181.5 L656.5,177.8 L661.3,175.0 L666.8,174.2 M522.8,20.0 L523.3,26.6 L523.0,33.2 L524.0,39.7 L522.4,46.1 L517.5,50.6 L511.8,53.9 L506.2,57.3 L499.6,58.4 L493.3,60.3 L486.7,60.5 L480.4,62.3 M622.4,265.5 L618.8,267.6 L614.7,268.5 L610.5,268.4 L606.5,269.4 L602.7,271.2 L598.5,271.4 L594.4,272.4 L590.5,270.8 M592.1,30.7 L584.6,31.7 L577.9,28.4 L570.5,26.9 L563.0,25.9 L555.9,23.4 L549.0,20.5 L541.6,18.9 L534.5,21.2 M456.3,81.6 L452.7,78.3 L448.0,77.0 L443.3,75.6 L438.4,76.0 L433.7,74.5 L428.8,74.2 L423.9,74.4 L419.0,74.4 L414.2,74.9 L409.4,76.3 M640.4,252.0 L644.9,257.9 L648.2,264.5 L653.5,269.6 L659.8,273.4 M657.9,127.5 L660.1,122.6 L660.2,117.2 L662.0,112.2 L659.7,107.4 L656.5,103.1 M482.9,239.0 L488.5,238.5 L494.0,237.7 L499.5,237.0 L504.7,235.0 L509.1,231.6 L514.3,229.4 L519.0,226.5 L523.0,222.6 L526.7,218.4 L531.9,216.4 L534.7,211.6 M514.7,166.0 L515.4,159.8 L513.2,153.8 L514.2,147.6 L517.4,142.1 L519.1,136.0 L522.3,130.6 L523.5,124.3 L526.1,118.6 L528.5,112.7 L532.3,107.7 M668.6,188.1 L674.6,186.4 L679.9,183.3 L683.9,178.6 L689.2,175.5 M553.4,147.0 L556.2,141.7 L561.3,138.5 L563.7,132.9 L567.6,128.3 L571.4,123.6 M656.4,169.3 L656.2,164.9 L655.6,160.5 L653.3,156.7 L651.3,152.8 L647.9,150.0 L643.6,149.0 L640.4,146.0 L637.9,142.4 M454.6,202.4 L456.3,198.5 L458.4,194.7 L458.8,190.4 L459.5,186.1 L461.8,182.5 L462.2,178.2 L464.8,174.7 L466.9,171.0 L468.7,167.0 L470.2,162.9 M575.9,297.1 L578.5,292.6 L578.9,287.4 L578.6,282.2 L580.7,277.4 M480.2,142.7 L475.7,147.4 L473.2,153.5 L468.1,157.6 L463.6,162.4 L457.9,165.4 L454.2,170.8 L450.9,176.5 L452.5,182.9 L454.8,189.0 L458.5,194.4 L463.7,198.4 M523.4,111.2 L527.2,104.4 L531.2,97.7 L538.0,93.7 L543.1,87.8 L549.0,82.7 L556.2,79.6 L563.2,76.1 L570.7,73.8" fill="none" stroke="#222" stroke-opacity="0.55" stroke-width="0.45" stroke-linejoin="round"/>
<path d="M551.8,162.9 L551.2,167.0 M552.7,178.0 L552.2,181.7 M546.7,167.5 L549.5,167.9 M555.5,172.8 L562.1,173.8 M564.2,161.8 L563.7,168.5 M542.1,175.7 L546.1,176.1 M544.4,178.7 L544.1,184.5 M541.6,164.6 L547.0,164.9 M552.4,162.9 L551.6,168.1 M549.3,177.9 L549.3,181.3 M558.0,181.5 L561.3,181.8 M549.3,170.0 L548.7,177.7 M556.1,173.2 L555.8,177.0 M563.9,163.9 L563.4,168.1 M546.7,161.9 L546.4,167.9 M555.4,172.4 L562.9,171.8 M554.9,165.4 L554.9,168.7 M546.3,172.9 L553.8,174.1 M542.4,163.7 L548.3,163.3 M545.5,165.9 L545.7,172.2 M557.5,167.1 L564.1,167.7 M560.1,178.6 L565.3,179.9 M553.7,177.4 L556.6,177.8 M559.6,168.3 L558.5,176.1 M552.6,171.5 L552.3,177.5 M545.4,181.1 L551.0,181.6 M549.6,183.3 L552.2,183.6 M552.5,175.2 L555.0,175.4 M546.1,165.5 L549.3,165.7 M544.3,178.8 L548.9,179.7 M551.6,160.1 L550.8,166.1 M558.9,177.7 L564.7,178.3 M550.1,163.6 L549.4,167.6 M546.0,163.8 L550.6,164.4 M550.0,182.7 L556.9,184.3 M549.0,170.4 L548.9,173.3 M562.4,172.8 L561.8,176.4 M557.3,174.1 L557.6,182.0 M542.7,171.9 L546.2,171.7 M560.2,161.9 L560.4,165.1 M560.6,166.2 L559.7,169.8 M546.7,173.7 L545.5,181.2 M557.8,175.2 L563.9,175.7 M545.6,164.0 L553.0,164.8 M545.5,173.8 L544.2,180.0 M554.6,177.0 L561.3,177.5 M547.4,183.6 L551.4,184.1 M555.9,179.3 L560.0,180.3 M566.0,189.0 L569.4,195.2 M569.4,204.9 L573.2,210.0 M563.1,210.4 L568.8,206.7 M553.5,214.6 L559.5,211.3 M569.8,201.1 L572.6,199.1 M547.7,187.8 L549.7,190.5 M550.7,204.2 L555.8,201.7 M570.1,205.1 L574.9,201.4 M554.4,201.2 L557.8,206.1 M547.0,190.8 L551.8,197.1 M552.3,189.3 L555.9,194.9 M548.2,208.9 L550.6,211.6 M554.2,205.6 L555.9,208.2 M546.5,190.6 L551.9,187.5 M553.3,194.0 L556.6,198.8 M566.1,192.1 L568.9,196.0 M573.1,186.4 L576.7,192.5 M562.4,204.0 L564.1,206.9 M562.1,185.7 L565.3,192.2 M561.9,191.1 L566.9,187.5 M557.9,209.8 L559.7,212.2 M547.4,197.3 L550.6,194.2 M553.8,201.3 L556.3,204.7 M553.7,213.1 L555.8,216.2 M551.8,194.5 L556.8,190.6 M561.3,195.0 L563.8,197.8 M565.1,211.8 L568.4,209.2 M571.6,198.9 L576.2,195.6 M567.6,198.7 L569.3,201.7 M569.2,202.0 L573.0,198.9 M554.5,196.7 L559.0,194.3 M554.5,199.1 L557.3,197.5 M557.4,198.2 L561.7,204.3 M564.8,204.9 L569.7,201.5 M568.4,199.5 L572.9,195.9 M552.0,196.3 L555.4,200.6 M568.3,201.5 L571.5,207.9 M560.5,205.2 L564.5,210.8 M565.1,194.4 L570.2,190.8 M556.1,204.6 L559.1,202.7 M561.0,212.4 L563.1,216.2 M548.7,204.4 L551.9,202.1 M573.0,202.4 L576.5,207.7 M571.6,193.3 L578.0,188.7 M568.4,190.0 L572.6,195.1 M564.8,186.0 L568.6,191.3 M572.8,211.6 L574.8,214.6 M572.7,210.8 L575.3,208.3 M557.1,187.8 L559.7,186.2 M556.1,203.9 L562.8,199.9 M589.4,225.7 L593.6,222.0 M576.2,218.1 L581.1,214.5 M586.3,224.2 L589.2,229.5 M579.1,216.5 L583.7,213.2 M600.0,237.7 L603.2,235.2 M563.4,211.6 L569.6,206.4 M595.0,222.1 L597.5,224.7 M587.3,240.2 L592.0,236.2 M584.4,220.0 L589.3,215.3 M585.5,224.0 L587.9,226.5 M580.1,214.3 L584.7,220.4 M606.5,238.0 L611.7,233.3 M600.8,235.0 L605.3,231.8 M588.7,232.0 L593.8,228.0 M605.4,242.8 L607.9,245.2 M579.3,212.1 L582.0,209.0 M603.2,245.5 L607.1,241.9 M588.5,223.6 L594.3,218.9 M590.6,234.4 L593.7,232.1 M590.5,240.0 L593.7,236.9 M559.1,213.8 L563.5,218.3 M601.8,229.6 L606.2,234.3 M572.2,221.1 L575.3,219.0 M580.3,227.7 L584.0,231.0 M595.7,228.8 L599.7,225.5 M577.0,230.8 L583.0,226.0 M593.8,238.8 L596.8,242.0 M590.2,216.5 L592.1,219.1 M569.0,204.7 L571.7,206.9 M564.8,219.2 L568.5,214.6 M590.1,216.5 L594.7,221.4 M583.7,216.5 L585.8,219.4 M598.0,236.4 L603.0,241.2 M583.6,234.6 L587.3,232.1 M571.0,210.4 L574.9,213.6 M567.3,216.3 L571.6,212.9 M569.3,214.3 L574.4,219.7 M563.0,209.5 L567.4,205.8 M566.8,219.4 L570.5,215.8 M563.8,213.0 L570.3,208.8 M598.5,230.0 L603.4,235.6 M575.9,205.9 L580.1,211.6 M578.3,230.1 L582.8,225.6 M592.3,227.3 L596.6,223.3 M584.1,225.1 L585.9,227.5 M602.1,230.2 L606.2,236.6 M576.8,224.0 L580.5,220.9 M584.4,221.3 L588.4,219.0 M572.9,222.1 L576.5,226.1 M604.4,236.9 L608.6,241.9 M597.9,239.1 L600.5,242.8 M588.5,228.0 L591.8,233.7 M565.9,218.6 L572.2,214.3 M563.7,211.1 L566.7,214.3 M560.7,214.1 L566.7,209.5 M602.7,235.8 L607.7,241.9 M604.8,244.8 L608.1,241.1 M570.3,217.8 L574.6,214.6 M606.3,236.4 L610.7,233.4 M599.1,241.1 L604.6,236.0 M592.8,226.9 L596.0,224.3 M575.2,222.3 L580.4,217.9 M587.0,226.7 L590.7,223.6 M575.6,220.3 L578.0,223.0 M564.6,215.7 L568.7,220.5 M579.5,231.5 L582.8,228.2 M577.1,213.9 L580.4,210.8 M609.3,238.4 L612.1,241.7 M567.0,212.0 L569.5,209.8 M578.5,224.0 L582.0,227.3 M558.1,205.3 L563.6,210.9 M591.7,226.3 L595.7,231.6 M565.1,213.3 L568.7,219.3 M601.0,245.2 L605.4,242.2 M565.9,207.7 L571.8,213.1 M585.5,218.1 L588.0,216.0 M597.6,245.7 L603.5,240.4 M583.6,224.4 L587.1,220.7 M608.5,234.4 L613.1,240.1 M592.9,243.2 L598.1,238.9 M585.6,231.7 L590.5,237.2 M562.0,206.0 L567.0,211.3 M562.7,212.0 L568.5,207.1 M588.7,222.8 L591.4,220.4 M578.1,209.7 L583.6,215.5 M606.7,243.7 L610.1,240.9 M593.7,237.8 L596.7,241.5 M574.3,214.6 L576.8,212.7 M585.2,237.5 L588.4,234.4 M591.2,230.3 L594.1,228.4 M583.2,218.0 L587.2,214.5 M605.7,236.8 L610.0,243.1 M596.4,226.6 L599.1,229.6 M594.9,229.9 L596.6,232.4 M591.2,222.7 L596.1,218.3 M561.7,207.6 L564.2,205.5 M600.4,228.2 L604.4,233.4 M559.6,208.2 L562.0,211.0 M585.1,224.0 L588.3,227.2 M581.5,214.0 L585.6,210.0 M573.8,215.4 L578.4,211.8 M581.4,225.1 L585.7,220.8 M605.7,244.0 L611.4,238.6 M601.1,236.4 L603.7,241.1 M587.4,223.3 L591.3,226.7 M562.8,212.5 L564.8,214.9 M566.4,212.2 L569.9,208.7 M583.0,226.1 L585.5,229.1 M601.0,230.6 L603.2,228.5 M560.8,207.8 L564.0,212.5 M583.4,147.7 L585.7,144.7 M588.8,156.4 L591.3,158.6 M581.1,156.6 L586.9,160.4 M585.0,150.1 L588.2,145.9 M594.3,171.0 L599.1,166.1 M583.1,163.4 L585.5,165.9 M588.3,160.5 L590.9,157.9 M579.5,141.2 L583.3,137.2 M588.7,157.7 L592.4,153.1 M595.2,167.7 L598.4,170.3 M587.0,167.0 L589.3,164.5 M583.8,149.1 L586.6,151.6 M588.2,163.4 L592.9,168.5 M576.1,152.6 L577.8,150.0 M597.0,173.9 L599.1,171.4 M591.2,157.4 L595.3,160.3 M576.4,157.1 L579.0,153.3 M582.9,149.0 L587.6,152.9 M593.7,177.8 L596.8,180.0 M578.0,152.8 L582.6,156.6 M585.1,150.7 L587.5,148.1 M587.1,161.8 L590.7,158.2 M596.5,174.4 L599.5,176.9 M591.4,169.7 L593.7,167.3 M578.0,136.7 L580.6,139.7 M582.6,164.2 L585.5,166.4 M583.9,145.4 L586.6,142.7 M581.0,160.8 L583.6,157.7 M579.7,155.1 L583.5,150.3 M593.6,172.0 L596.7,174.5 M575.8,150.3 L579.1,152.8 M576.9,156.2 L581.2,159.5 M591.8,174.4 L594.6,170.6 M578.9,137.8 L582.3,140.8 M576.1,145.2 L578.9,147.9 M586.9,160.4 L591.0,155.8 M587.9,152.3 L592.2,155.7 M590.9,161.2 L594.7,157.3 M580.0,150.6 L582.7,147.3 M580.6,156.5 L583.5,159.2 M584.1,153.6 L587.7,149.6 M584.4,159.4 L586.7,162.1 M591.1,177.3 L592.8,174.2 M584.4,166.9 L587.2,169.4 M583.1,166.5 L586.3,162.2 M593.4,158.8 L595.8,155.4 M582.1,164.8 L586.2,168.0 M592.3,171.7 L595.2,173.9 M581.8,163.8 L584.6,160.0 M597.3,161.7 L602.4,166.4 M579.4,146.9 L581.6,144.6 M586.6,158.9 L589.8,153.8 M580.9,158.4 L583.7,161.2 M577.7,142.8 L581.0,138.4 M596.9,179.8 L600.9,175.1 M592.0,167.0 L593.9,164.5 M589.0,164.4 L592.9,169.2 M575.8,142.2 L578.3,145.0 M588.6,160.3 L591.4,162.7 M592.4,172.5 L596.3,167.0 M581.3,158.2 L586.2,160.8 M575.1,145.1 L578.4,148.3 M587.9,166.1 L591.2,168.6 M592.9,155.4 L597.4,159.9 M591.2,175.6 L595.6,179.7 M592.5,161.9 L596.5,164.7 M574.3,151.9 L578.0,155.0 M596.8,167.6 L601.1,171.6 M583.2,159.9 L585.7,157.3 M581.7,154.1 L585.1,150.3 M621.2,216.8 L626.0,221.5 M634.9,224.0 L638.2,226.2 M615.1,198.8 L619.4,202.1 M631.8,232.1 L634.7,228.8 M632.8,240.1 L635.2,237.0 M603.9,194.2 L606.7,190.3 M607.0,186.8 L608.9,184.1 M618.1,208.8 L620.8,206.0 M638.9,235.6 L643.2,238.9 M627.1,215.5 L631.0,219.2 M609.9,208.3 L613.2,204.6 M596.9,181.0 L602.8,185.4 M624.2,222.1 L629.0,225.9 M625.1,207.6 L629.1,211.0 M597.7,189.6 L602.3,193.7 M638.1,236.4 L643.7,241.4 M601.1,194.3 L603.5,196.3 M599.3,190.8 L603.3,185.2 M605.4,189.7 L610.3,192.8 M618.7,219.5 L621.2,216.8 M612.2,199.6 L616.2,194.2 M622.8,222.6 L626.5,218.3 M610.3,204.5 L614.2,197.5 M608.3,203.2 L614.4,206.7 M605.2,203.3 L609.3,197.7 M600.9,176.5 L604.7,179.7 M598.3,186.4 L602.6,189.6 M619.4,217.8 L624.3,221.9 M602.6,194.9 L608.8,198.3 M620.4,221.9 L623.4,218.1 M640.5,233.0 L643.9,227.3 M616.7,216.3 L619.5,218.3 M602.7,199.6 L606.2,195.2 M631.6,221.3 L634.0,218.0 M607.4,199.4 L614.0,203.2 M595.4,189.8 L598.7,185.7 M626.3,233.5 L631.1,227.8 M620.2,224.8 L623.2,220.3 M620.7,216.9 L626.3,220.3 M621.2,206.5 L626.1,210.1 M610.1,195.5 L615.6,200.3 M639.7,228.3 L644.3,231.2 M609.6,201.9 L612.6,204.6 M623.5,218.9 L627.4,214.3 M613.4,199.1 L616.8,194.3 M604.4,202.7 L609.2,196.9 M602.7,182.3 L606.1,184.7 M640.2,234.2 L643.8,237.0 M619.4,202.0 L625.9,206.4 M608.0,194.0 L614.2,198.6 M639.3,227.5 L641.2,224.9 M628.0,223.7 L631.7,219.1 M609.8,199.2 L613.9,195.0 M635.1,225.5 L639.0,227.7 M636.8,231.6 L641.2,235.6 M622.0,205.5 L627.8,211.0 M632.6,240.5 L636.2,236.9 M614.2,194.1 L616.2,191.7 M621.7,214.7 L625.0,210.5 M616.5,217.4 L621.7,222.1 M601.3,197.5 L603.7,195.0 M606.5,186.6 L610.2,189.5 M593.6,174.5 L596.7,177.3 M627.1,220.5 L628.9,218.0 M597.9,188.5 L602.4,191.5 M619.7,215.6 L623.8,218.8 M618.7,202.8 L621.1,199.3 M630.4,223.6 L633.0,225.6 M617.8,214.9 L621.6,211.1 M622.4,211.0 L626.6,213.5 M613.4,211.6 L616.0,213.0 M599.1,192.8 L602.8,186.8 M643.0,237.3 L646.5,240.4 M618.5,203.2 L621.7,205.6 M611.0,199.5 L615.9,193.8 M610.5,201.4 L615.5,205.2 M600.6,181.8 L603.9,184.7 M633.4,224.4 L636.6,221.2 M609.9,196.4 L612.8,198.3 M628.5,231.8 L633.0,226.3 M605.8,194.9 L609.6,198.3 M606.1,189.8 L608.1,187.3 M640.0,239.6 L643.8,234.2 M629.3,226.6 L634.3,220.7 M597.6,173.7 L603.1,178.6 M615.1,199.0 L618.2,201.7 M613.6,212.8 L616.8,214.8 M636.3,230.3 L639.4,226.2 M605.8,184.5 L610.2,187.9 M615.8,210.7 L618.7,212.9 M600.9,177.5 L605.9,181.7 M640.5,240.6 L643.9,234.2 M618.5,208.4 L624.8,212.7 M616.4,212.0 L621.8,215.7 M621.9,205.2 L624.4,201.6 M596.7,184.6 L600.9,179.2 M597.7,190.4 L602.3,195.4 M600.9,197.8 L604.3,192.9 M606.4,189.2 L610.6,184.1 M604.8,198.3 L608.5,194.2 M608.5,199.0 L612.5,202.5 M619.4,217.8 L623.1,220.3 M598.3,181.6 L602.0,177.0 M611.7,208.3 L613.7,205.1 M633.4,226.9 L638.1,221.5 M597.7,177.1 L600.4,173.3 M615.1,193.9 L617.6,195.8 M642.3,241.6 L647.3,235.9 M617.8,200.6 L623.4,204.1 M616.3,198.0 L618.8,194.9 M653.7,258.1 L653.8,266.7 M661.6,251.8 L661.9,260.1 M629.8,252.6 L628.7,258.6 M638.7,284.9 L643.2,285.0 M612.0,256.6 L616.0,256.2 M668.2,259.9 L676.6,259.0 M656.8,252.5 L663.1,252.2 M616.2,286.7 L616.3,294.3 M638.4,292.4 L638.5,295.5 M614.0,248.6 L618.4,247.8 M664.7,254.7 L672.4,254.6 M670.7,283.5 L670.4,290.0 M655.8,292.0 L655.7,298.5 M642.5,294.7 L642.3,297.8 M619.7,258.5 L626.8,257.9 M654.4,274.3 L654.6,278.0 M642.6,260.7 L647.1,260.1 M652.2,280.5 L652.1,284.6 M627.6,259.4 L634.6,258.9 M636.8,256.1 L644.7,255.7 M668.2,295.0 L672.3,295.0 M618.6,258.3 L619.1,266.5 M631.3,246.6 L639.5,246.6 M640.8,287.3 L647.2,287.8 M633.2,256.3 L636.6,256.7 M652.5,281.9 L652.8,287.9 M612.1,281.2 L612.2,289.4 M631.9,277.6 L631.5,285.0 M638.2,282.6 L638.7,291.0 M658.6,292.0 L662.3,292.5 M663.6,285.5 L663.7,289.3 M647.8,245.0 L647.2,250.8 M659.6,289.1 L663.6,288.9 M624.9,247.5 L625.4,253.0 M671.8,271.0 L675.0,271.3 M645.2,249.3 L649.8,249.6 M614.9,292.4 L620.4,292.5 M627.7,259.1 L633.2,259.0 M623.5,292.7 L631.2,293.3 M645.6,275.1 L649.5,274.9 M641.5,262.9 L641.5,269.5 M610.2,248.6 L617.2,248.4 M623.9,289.7 L624.1,295.0 M645.6,282.8 L651.5,282.3 M614.0,296.4 L622.6,297.3 M655.6,286.2 L660.9,286.2 M671.8,265.9 L677.5,266.0 M648.2,256.9 L648.5,265.1 M635.9,291.8 L634.9,298.8 M612.0,293.6 L612.1,298.7 M658.9,296.5 L667.1,297.1 M614.1,258.5 L620.1,258.3 M671.3,285.9 L675.3,285.7 M663.0,254.1 L669.1,254.1 M629.5,281.4 L633.9,281.6 M669.2,290.6 L673.3,290.6 M659.6,258.5 L663.0,258.7 M637.6,281.3 L646.0,282.5 M656.0,280.4 L656.4,287.8 M656.6,264.4 L664.3,264.4 M622.1,266.4 L622.2,273.8 M648.0,293.3 L647.8,297.9 M636.2,291.5 L645.0,292.3 M636.4,270.9 L641.7,271.2 M636.5,291.5 L644.5,291.2 M625.1,236.5 L624.6,241.2 M613.9,282.4 L622.8,282.6 M617.9,288.6 L623.2,288.2 M644.3,285.0 L644.2,290.0 M652.3,242.2 L657.0,242.3 M647.8,252.0 L655.9,252.3 M656.9,254.0 L665.6,254.2 M631.7,272.4 L638.3,271.8 M644.1,279.5 L643.5,283.5 M621.2,290.5 L621.8,299.0 M662.7,282.3 L665.8,282.3 M626.7,271.7 L626.6,275.5 M665.2,274.3 L673.5,274.0 M644.9,289.4 L644.6,295.4 M625.7,236.5 L625.7,245.1 M627.3,236.4 L626.3,244.4 M624.5,276.2 L630.5,277.2 M614.1,251.8 L618.4,250.8 M637.1,291.6 L636.4,300.2 M642.0,255.8 L643.3,263.8 M655.0,259.7 L660.4,260.2 M663.9,269.1 L663.6,273.8 M649.2,294.8 L654.4,294.9 M656.1,251.3 L656.3,254.5 M659.5,296.3 L664.3,296.7 M628.1,244.4 L632.6,244.6 M644.8,247.7 L644.9,251.1 M657.8,246.0 L657.8,251.4 M656.6,294.9 L661.1,294.7 M625.7,260.2 L626.1,265.7 M672.9,261.2 L672.7,266.4 M636.7,239.2 L641.5,239.3 M651.6,271.0 L651.9,274.7 M636.5,265.1 L643.6,266.1 M669.4,272.4 L670.0,277.6 M654.6,288.0 L654.4,293.8 M616.7,239.0 L616.8,243.6 M653.9,286.3 L654.3,295.1 M610.7,263.8 L619.1,264.0 M620.8,280.3 L624.5,280.4 M613.9,246.5 L613.2,254.8 M626.3,240.9 L625.7,245.4 M642.7,241.9 L647.4,242.4 M626.8,259.7 L626.8,267.5 M648.5,280.4 L656.3,279.9 M622.3,239.0 L622.2,243.1 M623.3,237.1 L622.4,241.5 M650.4,256.0 L658.1,257.0 M632.0,249.0 L631.5,257.9 M651.3,237.7 L650.5,241.1 M654.5,287.2 L655.6,293.8 M641.7,290.0 L640.8,298.5 M648.6,248.9 L648.7,252.4 M660.2,250.4 L667.9,249.9 M659.9,279.8 L664.6,280.2 M667.3,270.6 L672.7,269.8 M623.4,274.5 L623.1,280.5 M640.2,266.4 L640.2,270.5 M613.5,246.1 L614.1,251.0 M669.0,286.9 L672.1,287.2 M656.4,285.6 L656.8,293.1 M654.4,289.3 L654.4,294.8 M636.8,245.8 L636.8,249.5 M620.8,284.6 L620.6,289.2 M650.7,256.4 L656.8,256.2 M646.8,284.1 L650.4,284.0 M610.9,296.1 L614.6,296.1 M648.9,269.1 L656.0,268.7 M668.5,283.3 L672.6,283.3 M632.4,285.0 L637.5,285.4 M654.6,257.5 L654.4,266.5 M632.4,263.0 L632.6,270.2 M648.3,288.6 L655.6,289.3 M652.8,244.1 L652.5,248.6 M645.0,255.8 L649.2,255.7 M666.7,256.8 L667.1,262.9 M632.5,254.3 L638.0,254.5 M608.6,263.9 L615.8,263.6 M632.2,251.4 L632.4,257.5 M623.5,282.7 L631.7,282.8 M611.9,246.3 L619.6,246.0 M636.6,275.9 L640.4,275.8 M671.0,264.3 L671.9,270.1 M666.2,244.2 L665.5,248.4 M628.9,240.6 L628.9,244.6 M627.8,281.6 L632.4,281.1 M645.4,285.2 L650.3,285.4 M640.8,246.6 L647.6,246.7 M619.9,241.9 L620.7,250.5 M651.9,268.4 L658.7,268.2 M622.7,237.8 L629.5,238.9 M643.6,288.4 L644.3,295.8 M627.4,270.5 L626.4,278.9 M645.7,255.7 L653.1,255.3 M618.6,247.6 L618.0,251.5 M649.4,244.9 L655.5,244.3 M627.4,250.3 L627.6,254.9 M654.3,251.5 L657.4,251.6 M657.0,277.9 L663.2,278.0 M646.4,286.0 L651.2,286.6 M618.3,253.8 L618.9,261.6 M650.9,288.2 L656.4,287.8 M669.3,290.6 L676.0,289.6 M617.3,259.0 L617.5,265.0 M626.1,251.8 L633.8,253.4 M623.7,236.3 L623.0,242.3 M618.9,237.9 L625.0,238.6 M662.7,272.5 L669.4,272.3 M640.3,251.7 L648.2,252.6 M636.9,292.9 L643.1,293.2 M665.4,277.4 L668.5,277.6 M642.9,291.6 L642.4,296.6 M632.3,253.9 L636.6,253.9 M629.2,294.5 L633.1,294.5 M622.8,263.0 L626.0,263.1 M612.5,265.3 L613.0,268.8 M635.2,283.0 L643.2,283.2 M664.4,283.2 L664.0,287.2 M635.9,240.0 L640.3,239.3 M623.5,282.5 L623.2,286.5 M657.6,244.7 L657.4,251.8 M669.1,264.3 L674.0,264.3 M629.0,276.7 L636.9,275.9 M666.2,291.8 L669.7,291.9 M665.4,261.2 L665.5,266.4 M624.4,292.4 L633.0,292.6 M636.9,284.3 L640.7,284.2 M658.2,293.0 L662.3,292.7 M646.7,273.6 L647.3,281.2 M674.8,292.8 L674.8,299.6 M649.0,290.7 L647.9,298.3 M619.8,262.8 L623.3,262.7 M666.7,267.9 L674.1,267.6 M618.1,281.2 L624.5,281.5 M644.5,249.1 L644.5,254.4 M621.7,273.5 L621.5,281.6 M626.4,291.0 L630.2,291.2 M645.5,276.9 L645.2,281.6 M637.9,279.4 L637.6,287.7 M671.4,277.6 L671.3,285.7 M622.8,276.2 L630.1,277.1 M661.7,256.1 L661.6,263.3 M629.2,253.3 L635.0,253.5 M638.1,252.8 L642.0,252.6 M663.3,270.5 L663.9,278.4 M623.2,242.5 L630.7,242.9 M644.4,249.0 L651.9,248.7 M620.7,250.5 L626.4,249.9 M612.3,270.2 L612.9,275.4 M614.1,281.1 L619.5,281.4 M638.7,247.5 L645.7,247.5 M663.7,292.4 L663.6,295.9 M638.7,263.3 L638.9,269.8 M648.5,279.3 L653.6,279.5 M652.1,269.4 L651.6,276.2 M642.3,279.2 L645.4,279.3 M639.1,280.7 L638.7,285.4 M668.8,268.1 L674.8,268.5 M617.3,281.4 L617.9,288.0 M615.4,293.1 L622.8,293.0 M630.6,245.8 L630.1,250.7 M615.7,236.2 L615.9,243.9 M650.7,252.3 L657.1,250.9 M612.6,282.0 L621.1,282.8 M658.2,284.3 L658.2,290.4 M662.4,291.8 L665.5,295.3 M665.9,281.0 L671.0,276.2 M650.4,253.7 L655.9,248.9 M658.8,248.4 L663.7,255.4 M657.3,242.1 L661.5,245.7 M658.6,293.0 L662.0,296.9 M675.1,269.0 L678.0,266.0 M669.2,258.5 L675.2,264.5 M673.6,295.6 L676.0,292.8 M658.2,268.4 L661.2,271.8 M668.9,240.7 L671.4,242.8 M641.4,252.9 L647.4,247.4 M655.7,254.2 L659.6,250.1 M671.2,289.5 L674.1,286.5 M674.8,260.9 L678.7,256.1 M644.1,256.7 L647.7,261.2 M674.3,248.1 L679.3,242.8 M652.8,242.8 L657.0,247.9 M671.0,266.5 L674.1,262.9 M674.7,261.0 L679.5,255.9 M670.8,295.5 L676.9,290.3 M649.3,262.1 L654.8,267.5 M647.0,290.3 L652.0,283.8 M676.1,271.2 L680.2,267.7 M667.6,292.8 L669.9,295.0 M658.8,292.0 L664.0,297.5 M641.5,253.8 L645.4,250.0 M659.8,277.4 L664.7,272.3 M641.9,288.5 L645.1,285.5 M650.2,255.6 L655.3,250.6 M668.1,289.6 L673.6,296.0 M666.5,256.7 L670.0,253.1 M656.3,269.7 L659.4,265.3 M667.0,254.5 L669.7,251.5 M664.7,256.0 L668.1,259.3 M669.0,250.5 L673.3,245.1 M649.6,292.8 L654.8,285.5 M642.7,255.6 L646.7,252.2 M645.8,258.2 L649.1,253.7 M660.2,245.4 L664.7,249.8 M675.3,262.6 L681.2,268.6 M652.7,244.8 L656.4,241.8 M658.9,269.1 L664.6,274.3 M669.0,284.9 L672.3,280.8 M640.3,248.0 L645.2,253.0 M665.2,283.0 L667.5,280.5 M651.2,292.3 L653.7,296.0 M657.8,295.0 L659.9,297.2 M639.1,260.6 L643.4,256.6 M646.1,240.5 L651.4,244.4 M643.6,297.8 L649.6,291.9 M671.1,279.1 L674.8,282.2 M660.2,289.0 L663.3,285.1 M674.6,256.1 L677.3,259.4 M677.0,252.2 L682.1,247.0 M653.7,259.1 L658.1,263.3 M646.9,247.2 L649.5,249.3 M652.6,270.0 L655.6,267.0 M649.5,262.4 L652.1,265.0 M639.2,239.8 L644.1,246.4 M658.6,259.0 L661.0,256.2 M669.9,245.7 L672.5,247.9 M649.8,288.4 L653.3,292.2 M661.9,248.8 L665.3,245.7 M676.5,259.9 L678.9,262.5 M671.3,256.0 L674.7,259.0 M648.4,284.4 L653.2,279.3 M644.1,267.1 L648.2,263.3 M666.1,284.8 L669.1,282.4 M648.0,266.1 L650.7,269.0 M659.6,297.6 L665.1,293.1 M650.1,274.4 L655.1,279.4 M672.6,268.2 L678.0,262.9 M671.5,244.8 L673.7,248.1 M643.6,283.0 L647.5,286.8 M676.6,246.9 L679.8,249.7 M654.0,246.3 L657.0,242.6 M671.5,274.6 L674.2,276.7 M658.6,294.8 L661.1,292.6 M641.5,292.2 L644.6,295.9 M498.7,22.6 L498.8,27.2 M498.3,17.3 L501.2,17.5 M505.5,28.7 L505.3,35.7 M499.0,47.2 L504.3,46.6 M504.2,26.5 L503.6,33.2 M498.5,12.3 L505.4,12.5 M494.7,9.4 L497.6,9.5 M492.1,12.8 L498.7,12.3 M504.0,6.9 L504.2,11.7 M497.6,16.2 L497.4,22.4 M495.4,27.4 L499.4,27.7 M499.3,23.8 L505.1,23.7 M503.6,28.6 L508.9,29.1 M502.6,36.6 L508.7,36.9 M502.1,33.5 L501.8,39.7 M497.1,27.5 L500.1,27.3 M494.8,12.6 L494.9,17.2 M496.7,39.2 L497.0,44.6 M506.7,7.6 L506.5,10.2 M505.8,19.2 L505.1,24.4 M503.7,45.2 L507.8,44.4 M496.2,23.3 L502.4,24.0 M504.8,28.7 L509.1,28.8 M500.5,40.7 L500.6,44.2 M490.4,7.1 L496.9,7.3 M492.8,35.3 L499.6,36.4 M503.0,19.9 L503.0,24.7 M506.8,24.9 L507.2,30.7 M505.2,32.4 L503.8,38.3 M491.6,24.1 L496.0,24.4 M500.7,35.5 L500.5,39.4 M499.8,5.1 L500.7,10.7 M503.5,18.6 L508.4,18.6 M491.8,15.3 L498.2,15.3 M497.8,15.8 L501.9,16.2 M499.4,21.5 L506.2,21.5 M503.7,8.9 L503.8,14.0 M500.7,47.1 L505.2,47.0 M502.3,34.4 L508.2,34.2 M494.8,8.4 L499.5,9.0 M503.1,45.3 L508.5,44.6 M504.0,26.0 L503.6,30.2 M504.1,20.6 L504.3,25.6 M497.5,19.8 L497.8,25.5 M496.7,20.7 L495.9,27.6 M513.6,50.2 L517.1,54.2 M506.4,61.3 L510.1,58.7 M503.2,69.3 L507.3,65.9 M510.3,62.7 L512.8,60.3 M513.4,64.3 L516.0,62.3 M505.2,54.8 L509.3,52.1 M517.4,64.8 L520.5,62.8 M505.0,65.1 L506.6,67.1 M510.7,58.0 L514.4,62.2 M510.8,62.9 L514.1,67.1 M518.7,67.4 L521.1,69.7 M509.3,51.5 L512.8,55.8 M507.7,55.0 L509.6,53.2 M516.7,70.9 L519.4,68.5 M507.0,60.7 L509.7,63.3 M507.4,67.7 L509.9,65.0 M514.0,60.3 L516.4,62.9 M508.2,59.7 L511.8,64.1 M516.5,61.7 L519.1,59.4 M510.9,44.6 L513.1,48.7 M535.3,96.4 L536.9,100.3 M531.5,117.1 L534.7,116.1 M538.0,102.4 L539.2,106.4 M536.7,100.1 L541.1,98.1 M529.6,105.0 L531.2,109.3 M533.7,112.6 L536.7,111.7 M526.2,113.1 L529.0,111.9 M524.1,120.7 L529.4,118.9 M531.8,104.7 L536.2,102.7 M528.8,122.3 L531.2,127.5 M526.1,102.6 L528.2,107.8 M534.8,98.2 L536.5,103.5 M532.8,114.0 L538.4,112.7 M536.5,105.0 L538.7,109.9 M532.5,103.3 L534.2,107.7 M527.8,125.0 L528.9,128.3 M528.1,99.4 L530.3,104.9 M527.0,104.2 L530.4,102.7 M528.8,122.1 L533.3,120.1 M538.1,111.6 L542.0,109.7 M525.9,108.4 L527.4,112.1 M524.9,124.1 L528.1,123.4 M533.4,110.9 L534.6,115.4 M536.1,115.7 L537.2,118.6 M526.1,105.8 L528.8,104.9 M537.7,98.3 L539.1,102.4 M538.0,110.7 L542.4,109.2 M531.0,126.0 L534.7,124.6 M533.6,96.1 L534.9,99.4 M530.2,102.3 L531.7,106.5 M590.5,91.1 L590.2,94.9 M582.2,90.6 L582.7,94.8 M589.0,89.0 L588.9,92.1 M591.8,87.8 L591.4,92.2 M592.6,89.1 L593.0,93.8 M588.2,89.3 L592.8,89.1 M583.1,85.9 L585.3,85.9 M586.3,87.9 L589.8,87.8 M591.6,87.4 L595.9,87.5 M584.2,88.5 L584.0,91.0 M589.8,87.8 L589.9,92.1 M590.1,87.9 L590.5,92.3 M593.9,88.9 L593.6,92.1 M591.4,92.1 L595.9,92.3 M586.3,88.8 L588.8,89.0 M587.9,89.3 L590.9,89.1 M583.2,83.3 L582.7,86.1 M592.5,89.4 L592.6,92.4 M584.1,90.9 L584.2,93.5 M588.4,86.8 L587.8,91.5 M587.5,90.9 L590.8,91.1 M587.8,88.0 L588.0,92.1 M582.6,95.1 L587.1,95.0 M582.6,88.1 L584.8,88.0 M588.8,91.9 L588.9,96.4 M590.4,92.1 L592.5,92.2 M583.2,86.9 L585.8,86.8 M583.3,92.5 L586.2,92.3 M583.0,43.1 L583.2,48.1 M582.5,43.0 L582.6,45.2 M572.1,41.0 L576.3,41.1 M574.8,51.5 L574.5,54.4 M578.1,45.3 L582.7,45.5 M573.7,46.0 L578.3,46.0 M577.2,41.1 L576.8,45.3 M580.6,39.3 L580.7,44.2 M579.8,47.6 L584.7,48.2 M576.7,44.9 L577.6,49.6 M574.9,50.7 L577.1,51.0 M575.3,46.4 L575.7,50.1 M577.5,51.8 L577.2,54.7 M576.4,41.3 L579.8,41.7 M580.0,39.1 L580.0,42.6 M576.8,52.2 L581.7,52.6 M622.1,45.6 L625.5,43.0 M621.5,37.6 L625.8,34.7 M624.2,41.1 L625.7,42.5 M620.2,39.4 L624.5,35.8 M617.1,50.7 L620.4,47.4 M624.8,43.4 L628.9,40.1 M618.0,44.1 L622.3,40.6 M622.7,42.0 L624.6,43.8 M624.6,48.2 L628.5,44.1 M625.4,34.0 L629.3,38.2 M622.2,40.4 L624.5,43.4 M620.9,42.2 L622.5,40.9 M621.8,42.3 L625.3,45.6 M618.0,41.0 L619.9,42.9 M616.6,45.0 L618.1,46.9 M628.0,41.4 L631.1,39.3 M622.3,39.4 L625.8,44.2 M622.8,49.3 L626.1,53.5 M624.9,39.7 L626.2,41.4 M623.4,42.6 L625.3,41.2 M626.4,121.8 L627.8,127.6 M620.1,103.2 L621.1,107.1 M622.7,109.3 L622.6,111.8 M618.2,129.9 L617.8,134.0 M619.0,117.8 L624.0,117.0 M613.9,112.0 L620.7,111.8 M618.9,105.4 L619.8,109.1 M616.1,132.6 L617.3,137.4 M619.0,136.1 L619.4,139.4 M607.5,109.7 L613.1,108.0 M626.3,115.5 L628.9,114.8 M596.3,116.2 L600.4,115.9 M617.8,109.1 L622.7,108.8 M607.6,105.2 L608.5,110.1 M617.0,121.0 L622.1,120.6 M623.8,120.4 L625.0,126.2 M616.0,134.6 L616.6,139.7 M624.7,129.9 L625.0,134.8 M624.4,117.3 L625.1,121.3 M598.6,126.3 L600.3,132.7 M606.5,135.2 L611.9,134.3 M607.6,132.3 L609.1,138.8 M615.7,106.8 L617.0,110.6 M611.7,122.5 L616.2,121.7 M613.9,134.9 L615.4,141.1 M624.1,121.0 L624.6,124.5 M603.6,134.6 L608.7,133.2 M600.6,113.2 L604.5,112.2 M610.1,112.9 L611.1,119.0 M605.0,128.0 L606.2,132.4 M597.8,110.4 L603.4,109.5 M623.0,121.1 L627.6,120.0 M620.5,140.0 L623.1,139.6 M625.7,138.2 L629.1,137.5 M615.4,113.7 L621.8,112.2 M623.6,109.8 L630.4,108.3 M621.8,112.0 L623.0,118.5 M597.3,139.7 L602.5,138.9 M612.1,135.4 L612.6,138.3 M615.2,119.3 L620.9,118.2 M612.4,118.3 L616.9,117.3 M618.3,109.6 L618.8,112.2 M600.3,108.0 L605.4,107.3 M615.0,126.4 L615.2,129.6 M607.7,130.5 L612.5,129.5 M597.6,122.1 L598.4,124.8 M624.9,137.6 L630.1,135.9 M602.1,135.2 L606.0,134.3 M618.3,111.3 L623.7,109.6 M621.3,111.8 L627.9,111.6 M599.3,137.6 L599.5,141.8 M614.6,111.6 L619.9,110.6 M616.3,123.1 L619.0,122.5 M621.5,102.6 L622.4,105.9 M601.7,112.3 L602.4,116.3 M612.2,138.8 L617.8,138.0 M620.4,116.7 L623.5,116.1 M606.1,130.2 L607.7,134.2 M622.4,134.2 L629.3,132.8 M615.2,109.5 L616.6,115.2 M655.1,108.1 L655.0,113.0 M667.8,125.2 L673.6,125.1 M686.4,118.2 L693.0,117.7 M686.2,122.3 L686.6,128.2 M673.9,117.5 L677.4,117.6 M663.0,110.6 L666.2,110.7 M652.5,112.6 L652.5,115.3 M664.9,111.6 L664.7,114.7 M655.5,124.7 L660.1,125.2 M672.7,108.7 L672.6,115.3 M653.2,121.4 L655.8,121.4 M658.3,124.4 L663.5,124.3 M649.7,120.9 L654.0,121.0 M649.9,111.0 L649.4,117.1 M650.7,111.7 L655.3,112.0 M649.4,119.1 L650.0,124.0 M677.4,116.4 L680.0,116.6 M670.9,110.3 L671.2,113.1 M682.0,123.0 L687.7,123.2 M672.6,110.2 L672.8,114.9 M649.5,118.7 L656.1,118.7 M665.7,124.7 L669.5,124.2 M667.6,115.9 L667.7,118.6 M671.9,121.3 L671.6,127.3 M652.9,109.7 L652.5,113.8 M682.1,123.8 L685.3,124.0 M688.6,114.2 L689.1,117.2 M662.6,118.9 L662.6,122.7 M654.8,120.5 L655.0,124.1 M657.9,110.6 L658.9,117.2 M661.9,108.4 L664.9,108.6 M672.9,108.6 L673.4,113.3 M650.4,112.4 L649.9,116.1 M678.4,121.3 L678.5,125.0 M679.5,106.1 L679.2,110.7 M658.3,117.4 L658.2,122.7 M676.1,114.4 L681.6,113.8 M671.6,122.3 L671.8,125.7 M649.2,125.9 L653.9,125.7 M682.8,116.5 L683.4,122.3 M657.2,115.0 L657.1,117.6 M654.5,120.3 L659.3,120.5 M664.8,108.2 L668.0,108.3 M652.4,122.6 L655.8,122.7 M659.5,122.6 L662.3,122.2 M667.9,191.9 L671.0,192.1 M661.6,186.6 L661.1,193.3 M657.2,194.5 L663.2,194.7 M669.4,185.5 L669.2,189.5 M679.1,194.7 L682.1,195.1 M682.9,182.6 L682.2,186.5 M679.4,184.7 L679.6,190.8 M672.4,190.0 L678.3,190.1 M645.8,188.1 L651.0,188.3 M647.9,191.7 L654.7,191.2 M675.1,195.7 L680.5,196.0 M651.0,192.8 L651.1,196.8 M674.9,184.1 L677.7,184.0 M672.9,185.1 L673.4,190.3 M672.4,183.5 L672.6,188.8 M672.2,193.6 L677.7,193.6 M660.4,194.3 L660.6,196.8 M667.4,182.4 L667.9,188.5 M653.1,190.7 L659.5,190.5 M678.6,193.1 L678.7,197.1 M676.7,179.8 L677.0,185.7 M673.1,193.0 L675.7,193.6 M673.2,185.9 L675.8,185.7 M678.9,186.8 L679.0,189.7 M681.8,193.8 L681.3,196.3 M669.8,190.1 L669.7,193.8 M677.8,193.8 L682.7,193.5 M650.0,190.2 L653.0,190.2 M654.6,184.6 L660.3,184.9 M649.8,190.4 L652.3,190.4 M646.4,193.1 L653.0,193.5 M666.0,186.5 L666.4,190.9 M661.1,187.7 L660.9,193.6 M668.3,186.9 L668.2,193.8 M657.2,193.1 L657.3,195.9 M663.7,192.4 L663.5,195.9 M659.1,183.7 L659.4,188.7 M650.9,191.8 L655.6,191.6 M678.3,195.8 L683.1,196.0 M672.2,190.5 L676.5,190.5 M680.5,185.0 L680.5,187.9 M667.7,181.1 L667.7,185.0 M650.0,193.1 L650.1,196.0 M667.7,186.2 L668.4,190.3 M666.9,187.8 L666.5,191.7 M639.2,172.9 L639.4,177.7 M630.4,177.4 L630.2,181.2 M633.0,171.7 L632.7,177.4 M620.5,180.7 L620.9,184.7 M636.3,168.1 L636.6,171.9 M642.0,174.2 L642.1,178.8 M628.3,179.8 L628.4,183.1 M634.4,174.8 L639.9,174.9 M637.2,169.3 L641.7,169.2 M637.8,180.8 L641.2,181.0 M644.3,174.7 L644.1,177.6 M622.4,174.9 L622.1,178.4 M623.9,182.5 L623.7,185.8 M635.1,175.7 L639.1,175.7 M636.7,173.3 L641.9,173.5 M637.9,169.9 L637.7,175.1 M623.7,181.4 L623.9,186.1 M629.7,180.6 L629.9,184.2 M616.0,182.0 L621.6,182.1 M639.1,173.9 L642.8,174.7 M621.8,172.9 L621.4,177.3 M628.4,180.8 L628.3,183.7 M621.0,174.4 L623.6,174.5 M629.4,177.2 L629.5,182.2 M621.8,169.7 L621.6,175.5 M573.3,142.4 L575.8,140.8 M570.9,126.7 L573.8,131.8 M575.0,139.4 L577.7,144.3 M567.2,124.7 L568.6,126.8 M568.1,136.9 L570.1,141.5 M577.2,130.9 L581.3,128.2 M566.0,137.8 L570.6,135.0 M577.9,131.9 L579.5,135.2 M569.0,134.0 L570.5,136.8 M569.3,135.3 L572.5,133.7 M573.7,134.5 L577.2,132.8 M572.3,133.5 L573.9,137.1 M566.0,132.1 L571.2,129.5 M574.8,133.8 L578.5,131.6 M576.9,126.9 L578.0,129.6 M575.1,135.1 L578.8,133.3 M573.0,134.9 L575.6,133.3 M575.7,136.6 L578.4,135.0 M564.9,141.1 L568.6,139.0 M576.5,131.9 L577.2,133.9 M567.3,129.2 L569.2,132.7 M577.7,130.3 L579.8,133.3 M576.1,141.1 L578.4,139.9 M576.5,138.4 L578.0,141.4 M573.1,133.9 L575.0,136.9" fill="none" stroke="#222" stroke-opacity="0.5" stroke-width="0.4"/>
</g>
<path d="M417.0,4.9 L418.2,6.9 L424.8,12.1 L429.9,16.4 L432.1,21.6 L435.8,27.4 L439.4,33.3 L441.6,39.1 L441.2,42.8 L439.4,45.7 L441.6,50.1 L443.8,47.9 L447.5,47.9 L451.9,50.9 L453.3,56.7 L454.1,62.6 L457.0,69.9 L459.9,77.2 L462.1,84.5 L461.4,91.8 L459.2,97.7 L450.4,119.3 L448.9,120.3 L458.5,120.7 L454.4,117.8 L457.7,113.4 L462.9,111.7 L471.6,112.7 L479.0,115.6 L484.8,119.3 L489.2,124.4 L493.6,129.5 L498.0,133.9 L500.9,138.3 L502.1,141.5 L503.0,141.6 L506.2,142.0 L508.4,139.9 L510.0,137.6 L512.4,137.7 L517.4,141.4 L522.3,147.0 L528.6,152.0 L533.5,155.7 L537.5,159.3 L540.3,160.2 L543.2,158.8 L542.5,162.7 L541.0,175.5 L541.7,184.3 L542.5,193.1 L543.2,201.9 L542.5,209.2 L539.5,210.6 L539.2,219.4 L540.3,228.2 L542.5,231.9 L546.9,231.9 L550.5,235.5 L552.0,239.9 L553.4,245.8 L555.6,251.6 L557.8,257.5 L559.3,263.3 L560.0,269.2 L559.3,271.0 L560.0,285.0 L560.5,301.0 L417.0,301.0Z" fill="#808080" stroke="#000" stroke-width="0.9" stroke-linejoin="round"/>
<path d="M543.2,158.3 L544.7,156.1 L546.9,153.9 L543.9,151.0 L546.9,148.1 L549.0,145.9 L552.0,146.6 L552.7,144.4 L549.8,142.2 L543.9,138.5 L542.5,137.8 L543.9,133.4 L546.9,131.2 L543.9,129.8 L542.5,126.1 L545.4,124.6 L549.8,122.4 L551.2,120.2 L548.3,118.1 L543.9,116.6 L542.5,112.9 L542.8,104.1 L543.9,95.4 L543.2,89.5 L543.9,97.7 L543.2,93.3 L551.2,91.8 L559.3,85.3 L559.3,83.1 L563.0,85.3 L570.3,88.9 L577.6,94.0 L582.0,97.7 L585.0,97.6 L587.9,100.5 L592.3,103.4 L596.7,101.9 L599.6,104.1 L604.0,107.8 L608.4,107.8 L612.1,104.9 L615.7,99.7 L618.7,93.9 L620.1,89.5 L621.9,88.9 L628.9,87.7 L634.5,88.6 L634.0,89.5 L634.8,93.2 L631.9,95.4 L627.5,97.6 L625.3,99.7 L628.9,101.2 L633.3,100.3 L639.2,101.1 L643.6,100.8 L648.7,101.4 L649.4,103.8 L653.1,104.4 L655.3,103.0 L658.2,101.2 L661.1,100.9 L664.8,103.4 L667.7,105.6 L672.8,104.1 L678.7,100.5 L682.4,98.6 L685.0,98.0 L690.4,98.0 L690.4,107.8 L685.0,107.8 L680.2,110.7 L674.3,112.9 L668.5,113.7 L664.8,112.2 L661.9,108.5 L659.7,104.9 L657.5,104.1 L654.5,106.0 L649.4,106.0 L645.0,105.5 L640.6,104.3 L635.5,104.0 L631.9,105.0 L626.0,105.9 L620.1,107.8 L615.7,110.0 L609.9,112.9 L605.5,113.7 L601.1,111.5 L597.4,107.8 L593.8,104.9 L589.4,104.1 L585.0,106.3 L584.2,108.5 L579.8,115.1 L573.2,118.1 L568.8,119.5 L565.9,122.4 L561.5,126.1 L557.8,128.3 L555.6,127.3 L558.6,133.4 L563.0,137.8 L567.3,140.7 L569.5,140.0 L571.7,137.8 L574.4,139.0 L573.4,140.5 L575.9,146.7 L577.0,152.8 L575.4,158.0 L572.1,162.1 L572.8,166.7 L580.6,170.8 L587.2,175.4 L587.7,180.1 L593.9,185.2 L597.5,188.8 L601.1,192.9 L604.2,198.1 L605.2,206.3 L606.2,212.1 L609.2,219.4 L612.1,226.7 L613.6,231.9 L617.9,231.1 L623.1,234.1 L624.5,237.0 L628.9,238.5 L636.2,239.2 L634.8,240.7 L628.9,241.4 L626.0,243.6 L621.6,242.8 L617.2,244.3 L612.8,242.1 L610.6,237.0 L609.2,233.3 L605.5,231.1 L601.1,229.7 L596.7,226.0 L592.3,222.4 L587.9,220.2 L585.0,219.4 L586.4,217.2 L583.5,218.0 L579.8,216.5 L576.1,214.3 L571.7,212.1 L567.3,210.6 L564.4,207.7 L566.6,207.0 L565.9,204.8 L563.0,201.9 L560.8,197.5 L562.2,194.5 L563.0,188.7 L564.4,183.6 L567.3,182.1 L566.6,179.9 L564.4,175.5 L566.6,183.2 L565.9,178.8 L564.4,174.4 L563.7,168.6 L562.2,164.2 L560.0,162.0 L555.6,161.5 L548.3,161.2 L543.9,162.0 L542.5,162.7Z" fill="#808080" stroke="#000" stroke-width="0.9" stroke-linejoin="round"/>
<path d="M541,160.5 L546.5,160.5" stroke="#808080" stroke-width="4.5"/>
<path d="M452.9,60.8 L457.0,64.0 L459.3,62.6 L460.2,66.5 L464.3,70.6 L466.7,68.7 L467.2,73.1 L470.5,78.7 L474.9,86.0 L479.3,93.3 L482.9,97.7 L484.8,100.6 L483.3,101.8 L481.0,99.0 L477.3,94.6 L473.0,87.3 L468.6,80.0 L465.3,74.1 L462.4,71.9 L458.0,67.5 L455.1,65.3 L452.2,62.9Z" fill="#808080" stroke="#000" stroke-width="0.9" stroke-linejoin="round"/>
<path d="M506.8,134.3 L509.5,135.0 L514.5,139.5 L513.5,140.6 L510.0,138.5 L507.5,136.5Z" fill="#808080" stroke="#000" stroke-width="0.9" stroke-linejoin="round"/>
<path d="M625.5,5.5 L626.5,7.5 L629.0,8.3 L631.5,7.5 L632.5,5.5Z" fill="#808080" stroke="#000" stroke-width="0.9" stroke-linejoin="round"/>
<path d="M466.5,112.0 L465.5,106.1 L464.6,98.8 M463.6,110.5 L462.6,105.4 L460.4,100.5 M462.6,105.4 L463.1,101.7 M465.5,106.1 L467.2,102.4 M469.0,111.7 L469.9,107.6 M459.9,112.0 L461.4,107.3 M471.3,112.0 L471.6,108.7" fill="none" stroke="#222" stroke-width="1.2" stroke-linecap="round" stroke-linejoin="round"/>
<path d="M553.0,148.8 L554.5,147.6 L556.4,148.1 L557.1,149.8 L555.6,151.7 L553.6,151.3Z" fill="#fff" stroke="#111" stroke-width="0.6"/>
<path d="M564.9,157.1 L566.2,156.8 L566.8,158.3 L566.2,159.8 L567.1,161.5 L565.9,162.3 L565.2,160.5 L565.3,159.0Z" fill="#fff" stroke="#111" stroke-width="0.6"/>
<path d="M580.0,95.8 L581.6,95.0 L587.3,101.2 L586.9,103.3 L584.7,102.6Z" fill="#fff" stroke="#111" stroke-width="0.6"/>
<path d="M441.2,42.4 L443.1,41.8 L444.6,44.3 L443.1,47.9 L441.6,46.5Z" fill="#fff" stroke="#111" stroke-width="0.5"/>
<path d="M622.3,234.1 L626.7,235.5 L628.9,238.2 L635.5,239.3 M624.5,237.7 L627.5,240.7 L631.9,242.1 L634.0,244.3 M612.1,239.9 L615.0,243.1 L617.9,244.3 M616.5,231.9 L619.4,230.0 M609.2,234.1 L607.0,232.9 M626.0,98.3 L630.4,99.2 L633.3,98.0 M628.9,101.2 L634.8,102.1 L639.2,101.8 L642.8,103.0 M643.6,99.7 L648.0,100.6 L650.2,103.6 L653.8,104.7 M634.8,93.9 L632.1,95.9 M645.0,105.6 L649.4,106.8 L653.8,106.2" fill="none" stroke="#111" stroke-width="1.1" stroke-linecap="round" stroke-linejoin="round"/>
<path d="M432.8,170 l1.2,0.8 M446.9,181 l0.6,0.4 M450.8,186.6 l1,0.3 l0,1 z" fill="#222" stroke="#222" stroke-width="0.7"/>
<path d="M452.6,50.9 L455.5,47.9 L458.5,47.2 L461.4,47.9 L464.3,47.9 L466.5,46.5 L468.7,45.7 L471.6,47.9 L498.0,70.6 L500.0,71.3 L508.8,74.3 L519.0,77.2 L527.8,76.5 L531.5,80.1 L535.1,83.1 L539.5,90.4 L542.5,93.3" fill="none" stroke="#111" stroke-width="0.7" stroke-linejoin="round"/>
<path d="M535.1,6.2 L538.8,11.3 L543.9,15.7 L542.5,21.6 L548.3,28.9 L551.2,34.7 L555.6,40.6 L560.0,47.9 L561.5,55.2 L565.9,62.6 L568.1,68.4 L568.8,75.7 L566.6,77.2 L566.6,83.1" fill="none" stroke="#111" stroke-width="0.7" stroke-linejoin="round"/>
<path d="M559.3,83.1 L597.4,83.1 L597.4,81.6 L594.4,77.2 L596.6,68.4 L593.7,59.6 L595.9,53.8 L595.2,46.5 L600.0,46.5 L620.9,46.8 L621.6,43.5 L620.1,37.7 L614.3,27.4 L609.2,18.6 L613.6,6.2" fill="none" stroke="#111" stroke-width="0.7" stroke-linejoin="round"/>
<path d="M589.4,145.6 L593.8,150.0 L598.2,154.4 L599.6,158.8 L604.0,161.0 L608.4,163.2 L621.6,164.7 L627.5,169.1 L631.9,173.5 L631.9,177.8 L639.2,183.0 L685.0,169.1 L690.4,167.5" fill="none" stroke="#111" stroke-width="0.7" stroke-linejoin="round"/>
<path d="M657.0,235.5 L690.0,235.5" fill="none" stroke="#111" stroke-width="0.7" stroke-linejoin="round"/>
<path d="M636.2,239.5 L643.6,238.5 L646.5,241.4 L650.9,239.9 L653.8,237.7 L656.7,235.8" fill="none" stroke="#111" stroke-width="0.7" stroke-linejoin="round"/>
<path d="M599.6,257.0 L595.9,260.7 L597.4,268.0 L599.6,273.8 L604.0,281.1 L604.0,296.4 L587.9,296.4 L587.9,300.1" fill="none" stroke="#111" stroke-width="0.7" stroke-linejoin="round"/>
<path d="M604.0,281.1 L614.2,289.9 L623.7,299.3" fill="none" stroke="#111" stroke-width="0.7" stroke-linejoin="round"/>
<path d="M542.5,184.3 L563.0,184.6" fill="none" stroke="#111" stroke-width="0.7" stroke-linejoin="round"/>
<path d="M545.4,132.0 L555.6,133.4 L564.4,132.0 M562.2,163.4 L565.9,159.5 L573.2,158.3 M543.9,156.8 L544.7,162.0 M585.0,212.1 L593.8,208.4 L604.0,204.1" fill="none" stroke="#222" stroke-opacity="0.55" stroke-width="0.45"/>
<path d="M553.3,98.1 L660.3,242.9" stroke="#202020" stroke-opacity="0.67" stroke-width="3.4" fill="none"/>
<path d="M452.5,4.9 V300" stroke="#000" stroke-width="1" stroke-dasharray="0.8,1.2" fill="none"/>
<path d="M542.7,4.9 V300" stroke="#000" stroke-width="1" stroke-dasharray="0.8,1.2" fill="none"/>
<path d="M632.9,4.9 V300" stroke="#000" stroke-width="1" stroke-dasharray="0.8,1.2" fill="none"/>
<path d="M417,119.2 H687" stroke="#000" stroke-width="1" stroke-dasharray="0.8,1.2" fill="none"/>
<path d="M417,232.5 H687" stroke="#000" stroke-width="1" stroke-dasharray="0.8,1.2" fill="none"/>
<g transform="translate(0,0.4)">
<path d="M574.6,145.5 L579.5,157.8 L589.4,169.0 L600.5,180.1 L611.7,191.2 L616.6,198.7 M580.7,147.9 L588.2,160.3 L598.1,170.2 L608.0,180.1 L616.6,190.0 M616.6,199.9 L621.6,208.6 L627.8,217.2 L636.4,225.9 L642.6,234.6 L647.6,244.5 L652.5,253.1 M585.0,166.0 L592.0,170.0 L600.0,176.0 L607.0,185.0 M640.0,226.0 L645.0,236.0 L650.0,247.0" fill="none" stroke="#0a00fa" stroke-width="2.3" stroke-dasharray="0.1,3.1" stroke-linecap="round" stroke-linejoin="round"/>
<path d="M529.3,81.4 L531.0,86.5 L531.0,92.3 L531.5,96.7 M541.0,92.3 L543.2,90.2 M580.5,91.6 L583.5,93.8 M530.7,90.2 L531.0,96.1 M533.7,99.0 L535.9,101.9 M536.3,102.7 L538.4,105.3 M535.9,110.0 L535.6,112.2 M542.5,90.2 L541.0,92.4 M543.2,131.5 L545.4,131.2 M580.5,91.7 L580.6,91.8 M578.3,120.0 L580.8,116.9 L583.4,114.4 L586.5,114.9 L589.6,115.4 L591.6,116.4 M580.8,120.5 L581.9,122.6 M584.4,122.6 L586.0,123.6 M567.0,124.1 L569.0,122.6 M568.0,126.7 L568.5,128.2 M573.1,125.7 L574.7,124.1 M572.1,128.8 L575.7,130.3 M578.8,126.2 L582.4,127.7 M563.9,133.9 L565.4,131.3 M568.0,136.5 L568.0,136.5 M573.6,133.4 L574.2,137.0 L575.2,140.6 L576.7,143.7 L577.7,147.3 L578.8,150.9 L579.3,153.9 L579.3,157.0 L577.7,159.1 L580.8,160.1 L583.9,158.1 L584.9,155.0 L588.0,153.4 L591.1,154.5 L593.2,156.5 M580.8,162.2 L584.9,163.2 L587.0,164.7 M589.1,162.2 L593.2,164.2 M598.8,163.7 L598.9,163.8 M595.7,142.6 L595.8,142.7 M601.4,143.2 L605.5,143.2 L609.6,142.6 L612.7,142.4 M616.8,141.6 L616.9,141.7 M608.6,156.0 L608.6,156.0 M618.9,119.0 L620.0,121.1 M577.2,161.5 L580.3,164.1 L583.4,163.6 M584.4,164.6 L587.5,166.2 M588.5,162.6 L592.6,164.1 M589.5,168.7 L593.6,171.8 L596.7,174.9 M595.7,166.7 L599.8,168.7 L603.9,170.8 L605.5,173.9 L606.0,176.9 L607.5,180.0 M597.7,163.6 L599.8,164.6 M597.7,179.5 L599.8,182.1 L600.8,180.5 L602.9,181.1 M613.2,173.3 L615.7,175.9 L618.3,178.0 M604.9,187.7 L609.1,188.8 L613.2,188.8 L617.3,189.3 L621.4,188.2 L625.5,186.7 L629.6,185.7 L633.7,185.7 L637.8,186.7 L641.9,187.0 M604.9,189.8 L609.1,190.8 L612.1,191.3 M610.1,184.1 L613.2,187.2 L616.2,190.3 L618.3,191.3 M612.1,192.4 L614.2,195.4 L615.2,199.6 M611.6,202.1 L611.7,202.2 M616.2,194.4 L618.8,196.5 M619.3,204.2 L619.4,204.2 M621.9,204.7 L622.0,204.7 M617.3,207.3 L620.4,208.8 L621.4,210.9 M625.5,208.3 L628.6,207.8 M626.0,211.4 L626.1,211.4 M626.0,219.9 L626.1,220.0 M637.3,214.5 L637.4,214.5 M631.7,225.2 L631.7,225.3 M633.2,161.5 L633.3,161.6 M638.3,173.3 L638.4,173.4 M618.7,211.0 L618.8,211.1 M621.3,211.0 L621.4,211.1 M625.9,211.5 L626.0,211.6 M625.4,220.3 L625.5,220.3 M631.6,225.4 L631.6,225.5 M637.7,230.5 L637.8,230.6 M637.2,214.6 L638.3,215.6 M647.0,220.3 L649.1,217.7 M652.7,215.1 L652.7,215.2 M652.1,211.5 L655.2,212.0 M640.3,226.9 L640.8,224.9 L643.4,224.4 L644.4,225.9 M642.9,229.0 L646.0,232.1 L648.0,235.2 L649.6,238.2 L650.6,241.3 L651.6,244.4 L652.7,248.5 L654.2,252.6 L654.7,255.2 M643.4,235.7 L644.4,236.7 M644.9,240.8 L646.5,243.4 L649.1,246.0 M637.2,250.1 L639.3,250.6 M637.7,252.6 L638.8,253.7 M649.6,258.3 L649.6,258.3 M661.9,256.2 L662.0,256.3 M665.5,258.0 L665.5,258.0 M660.9,263.4 L661.9,264.5 M664.2,265.0 L664.2,265.0 M585.0,123.5 L585.1,123.5 M618.4,118.1 L620.1,122.4 M596.0,142.9 L596.1,143.0 M601.1,143.7 L605.5,143.4 L612.1,142.9 M616.9,141.8 L617.0,141.8 M608.4,156.1 L608.5,156.2 M633.3,159.8 L633.6,162.7 M638.4,173.2 L638.5,173.3 M643.6,182.5 L643.6,182.5 M643.6,186.9 L645.0,184.6 L643.6,182.1 M649.4,186.5 L652.3,186.5 M650.2,194.5 L650.9,197.5 L653.1,198.9 L654.5,204.8 L655.3,210.6 L651.6,210.9 M653.1,215.0 L653.2,215.1 M648.0,218.7 L646.5,220.2" fill="none" stroke="#0a00fa" stroke-width="2.35" stroke-linecap="round" stroke-linejoin="round"/>
</g>
<g transform="translate(0,-0.3)">
<path d="M427.8,210.1 H460.1 M427.8,203.6 V216.6 M460.1,203.6 V216.6" stroke="#111" stroke-width="1.3" fill="none"/>
<text x="443.6" y="202" font-size="7.8" text-anchor="middle">km</text>
<text x="443.8" y="222.2" font-size="7.8" text-anchor="middle">20</text>
</g>
<rect x="421.9" y="243.6" width="137" height="51.2" rx="2.2" fill="#fff" fill-opacity="0.8" stroke="#ccc" stroke-opacity="0.8" stroke-width="0.8"/>
<path d="M425,252.7 H450.5" stroke="#202020" stroke-opacity="0.67" stroke-width="3.6"/>
<path d="M425,268.4 H450.5" stroke="#0a00fa" stroke-width="3.6"/>
<path d="M426.2,284.4 H448.8" stroke="#2a2a2a" stroke-width="1.1"/>
<text x="457.3" y="256.6" font-size="10.85" fill="#000">Rupture Scenario</text>
<text x="457.3" y="272.3" font-size="10.85" fill="#000">Heavily Disrupted</text>
<text x="457.3" y="288.0" font-size="10.85" fill="#000">Roads</text>
</g>
<path d="M686,4.9 H417 V300 H686" fill="none" stroke="#000" stroke-width="2.1"/>
<path d="M684.9,4.9 V300" fill="none" stroke="#000" stroke-width="1" stroke-opacity="0.7"/>
<text x="414" y="8.6" font-size="10.7" text-anchor="end">38.5°N</text>
<text x="414" y="122.1" font-size="10.7" text-anchor="end">38°N</text>
<text x="414" y="235.4" font-size="10.7" text-anchor="end">37.5°N</text>
<text x="452.5" y="311.8" font-size="10.7" text-anchor="middle">123°W</text>
<text x="542.7" y="311.8" font-size="10.7" text-anchor="middle">122.5°W</text>
<text x="632.9" y="311.8" font-size="10.7" text-anchor="middle">122°W</text>
<text class="ser" transform="translate(345,19.1) scale(1,1.12)" font-size="17.4">(d)</text>
</g>
</svg></body></html>
